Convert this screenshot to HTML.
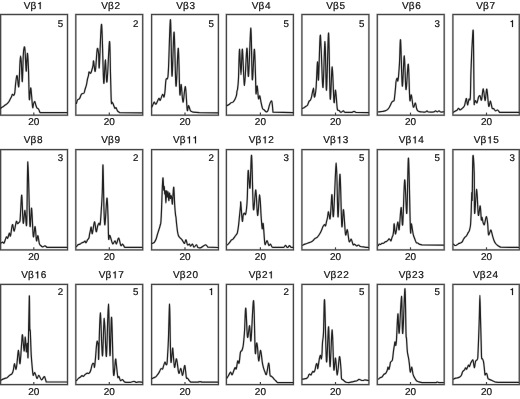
<!DOCTYPE html>
<html><head><meta charset="utf-8"><style>
html,body{margin:0;padding:0;background:#fff;width:520px;height:399px;overflow:hidden}
svg{display:block;will-change:transform;text-rendering:geometricPrecision;font-family:"Liberation Sans",sans-serif}
.f{fill:none;stroke:#454545;stroke-width:1.2}
.fu{fill:none;stroke:#d6d6d6;stroke-width:2.3}
.c{fill:none;stroke:#222;stroke-width:1.2;stroke-linejoin:round;stroke-linecap:round}
.cu{fill:none;stroke:#dadada;stroke-width:2.3;stroke-linejoin:round;stroke-linecap:round}
.t{font-size:10px;fill:#111;stroke:#111;stroke-width:0.22px}
.g{fill:#111;stroke:#111;stroke-width:0.22px;stroke-linejoin:round}
.n{font-size:9.7px;fill:#111;stroke:#111;stroke-width:0.22px;text-anchor:end}
.l{font-size:10px;fill:#111;stroke:#111;stroke-width:0.22px;text-anchor:middle}
</style></head><body>
<svg width="520" height="399" viewBox="0 0 520 399">
<rect class="fu" x="0.6" y="14.5" width="66.9" height="100.7"/>
<path class="cu" d="M0.80 108.40 C0.92 108.23 1.13 107.67 1.50 107.40 C1.87 107.13 2.50 107.12 3.00 106.80 C3.50 106.48 4.00 105.88 4.50 105.50 C5.00 105.12 5.50 104.87 6.00 104.50 C6.50 104.13 7.00 103.80 7.50 103.30 C8.00 102.80 8.58 102.13 9.00 101.50 C9.42 100.87 9.70 100.08 10.00 99.50 C10.30 98.92 10.53 98.50 10.80 98.00 C11.07 97.50 11.33 97.12 11.60 96.50 C11.87 95.88 12.03 94.50 12.40 94.30 C12.77 94.10 13.40 95.57 13.80 95.30 C14.20 95.03 14.52 94.42 14.80 92.70 C15.08 90.98 15.22 87.62 15.50 85.00 C15.78 82.38 16.20 78.42 16.50 77.00 C16.80 75.58 16.92 74.92 17.30 76.50 C17.68 78.08 18.35 88.92 18.80 86.50 C19.25 84.08 19.70 67.08 20.00 62.00 C20.30 56.92 20.38 56.00 20.60 56.00 C20.82 56.00 21.02 57.75 21.30 62.00 C21.58 66.25 21.97 82.67 22.30 81.50 C22.63 80.33 22.98 60.68 23.30 55.00 C23.62 49.32 23.92 48.23 24.20 47.40 C24.48 46.57 24.67 46.07 25.00 50.00 C25.33 53.93 25.87 69.67 26.20 71.00 C26.53 72.33 26.77 60.83 27.00 58.00 C27.23 55.17 27.35 52.00 27.60 54.00 C27.85 56.00 28.22 62.50 28.50 70.00 C28.78 77.50 29.00 95.50 29.30 99.00 C29.60 102.50 30.02 92.67 30.30 91.00 C30.58 89.33 30.62 86.33 31.00 89.00 C31.38 91.67 32.18 104.50 32.60 107.00 C33.02 109.50 33.13 104.92 33.50 104.00 C33.87 103.08 34.42 101.33 34.80 101.50 C35.18 101.67 35.43 103.92 35.80 105.00 C36.17 106.08 36.55 107.33 37.00 108.00 C37.45 108.67 38.00 108.23 38.50 109.00 C39.00 109.77 39.50 111.40 40.00 112.60 L67.00 112.60"/>
<rect class="fu" x="75.8" y="14.5" width="66.9" height="100.7"/>
<path class="cu" d="M76.40 103.50 C76.58 102.92 76.98 100.82 77.50 100.00 C78.02 99.18 78.92 99.42 79.50 98.60 C80.08 97.78 80.58 95.92 81.00 95.10 C81.42 94.28 81.50 94.05 82.00 93.70 C82.50 93.35 83.50 93.70 84.00 93.00 C84.50 92.30 84.58 90.90 85.00 89.50 C85.42 88.10 86.08 86.35 86.50 84.60 C86.92 82.85 87.17 80.53 87.50 79.00 C87.83 77.47 88.25 76.57 88.50 75.40 C88.75 74.23 88.67 72.35 89.00 72.00 C89.33 71.65 90.08 73.43 90.50 73.30 C90.92 73.17 91.08 72.48 91.50 71.20 C91.92 69.92 92.65 67.28 93.00 65.60 C93.35 63.92 93.22 60.17 93.60 61.10 C93.98 62.03 94.70 73.17 95.30 71.20 C95.90 69.23 96.65 52.22 97.20 49.30 C97.75 46.38 98.25 50.75 98.60 53.70 C98.95 56.65 98.80 71.87 99.30 67.00 C99.80 62.13 100.87 21.92 101.60 24.50 C102.33 27.08 103.08 76.62 103.70 82.50 C104.32 88.38 104.75 59.92 105.30 59.80 C105.85 59.68 106.30 84.83 107.00 81.80 C107.70 78.77 108.92 42.90 109.50 41.60 C110.08 40.30 110.20 64.03 110.50 74.00 C110.80 83.97 111.05 96.72 111.30 101.40 C111.55 106.08 111.72 101.75 112.00 102.10 C112.28 102.45 112.67 102.80 113.00 103.50 C113.33 104.20 113.67 105.48 114.00 106.30 C114.33 107.12 114.67 108.17 115.00 108.40 C115.33 108.63 115.58 107.30 116.00 107.70 C116.42 108.10 116.92 109.98 117.50 110.80 C118.08 111.62 118.83 112.00 119.50 112.60 L142.20 112.80"/>
<rect class="fu" x="151.6" y="14.5" width="66.8" height="100.7"/>
<path class="cu" d="M151.90 107.00 C152.13 106.47 152.90 104.62 153.30 103.80 C153.70 102.98 153.85 102.05 154.30 102.10 C154.75 102.15 155.25 104.70 156.00 104.10 C156.75 103.50 158.10 99.13 158.80 98.50 C159.50 97.87 159.57 100.98 160.20 100.30 C160.83 99.62 161.97 94.95 162.60 94.40 C163.23 93.85 163.60 97.53 164.00 97.00 C164.40 96.47 164.67 94.10 165.00 91.20 C165.33 88.30 165.57 81.77 166.00 79.60 C166.43 77.43 167.18 80.07 167.60 78.20 C168.02 76.33 168.02 78.15 168.50 68.40 C168.98 58.65 169.92 18.42 170.50 19.70 C171.08 20.98 171.40 74.02 172.00 76.10 C172.60 78.18 173.43 30.55 174.10 32.20 C174.77 33.85 175.30 83.32 176.00 86.00 C176.70 88.68 177.67 47.02 178.30 48.30 C178.93 49.58 179.32 87.65 179.80 93.70 C180.28 99.75 180.67 83.20 181.20 84.60 C181.73 86.00 182.30 101.75 183.00 102.10 C183.70 102.45 184.70 85.42 185.40 86.70 C186.10 87.98 186.67 106.65 187.20 109.80 C187.73 112.95 188.08 105.48 188.60 105.60 C189.12 105.72 189.78 109.50 190.30 110.50 C190.82 111.50 191.23 111.32 191.70 111.60 C192.17 111.88 192.63 112.00 193.10 112.20 L199.40 112.60 L218.00 112.80"/>
<rect class="fu" x="226.4" y="14.5" width="67.0" height="100.7"/>
<path class="cu" d="M227.00 105.60 C227.33 105.43 228.33 105.07 229.00 104.60 C229.67 104.13 230.33 103.22 231.00 102.80 C231.67 102.38 232.33 102.68 233.00 102.10 C233.67 101.52 234.42 100.47 235.00 99.30 C235.58 98.13 236.17 96.50 236.50 95.10 C236.83 93.70 236.83 91.83 237.00 90.90 C237.17 89.97 237.25 91.62 237.50 89.50 C237.75 87.38 238.17 84.90 238.50 78.20 C238.83 71.50 239.08 49.88 239.50 49.30 C239.92 48.72 240.52 74.70 241.00 74.70 C241.48 74.70 241.82 47.53 242.40 49.30 C242.98 51.07 243.75 85.47 244.50 85.30 C245.25 85.13 246.23 49.83 246.90 48.30 C247.57 46.77 247.83 79.47 248.50 76.10 C249.17 72.73 250.27 27.52 250.90 28.10 C251.53 28.68 251.73 76.07 252.30 79.60 C252.87 83.13 253.77 50.00 254.30 49.30 C254.83 48.60 255.22 68.00 255.50 75.40 C255.78 82.80 255.72 91.93 256.00 93.70 C256.28 95.47 256.78 85.18 257.20 86.00 C257.62 86.82 258.07 96.97 258.50 98.60 C258.93 100.23 259.38 95.22 259.80 95.80 C260.22 96.38 260.55 100.00 261.00 102.10 C261.45 104.20 262.00 107.12 262.50 108.40 C263.00 109.68 263.33 109.22 264.00 109.80 C264.67 110.38 265.83 111.78 266.50 111.90 C267.17 112.02 267.50 111.67 268.00 110.50 C268.50 109.33 269.00 106.42 269.50 104.90 C270.00 103.38 270.58 101.87 271.00 101.40 C271.42 100.93 271.67 100.30 272.00 102.10 C272.33 103.90 272.67 108.83 273.00 112.20 L293.00 112.60"/>
<rect class="fu" x="301.9" y="14.5" width="67.0" height="100.7"/>
<path class="cu" d="M302.50 108.40 C302.75 108.28 303.42 108.05 304.00 107.70 C304.58 107.35 305.42 106.72 306.00 106.30 C306.58 105.88 307.00 106.02 307.50 105.20 C308.00 104.38 308.50 102.27 309.00 101.40 C309.50 100.53 310.08 100.70 310.50 100.00 C310.92 99.30 311.00 99.18 311.50 97.20 C312.00 95.22 313.03 88.10 313.50 88.10 C313.97 88.10 313.88 97.08 314.30 97.20 C314.72 97.32 315.47 94.67 316.00 88.80 C316.53 82.93 317.08 63.53 317.50 62.00 C317.92 60.47 318.07 83.83 318.50 79.60 C318.93 75.37 319.65 41.58 320.10 36.60 C320.55 31.62 320.72 41.23 321.20 49.70 C321.68 58.17 322.37 88.75 323.00 87.40 C323.63 86.05 324.42 41.13 325.00 41.60 C325.58 42.07 325.90 91.62 326.50 90.20 C327.10 88.78 327.98 31.70 328.60 33.10 C329.22 34.50 329.60 92.95 330.20 98.60 C330.80 104.25 331.57 66.42 332.20 67.00 C332.83 67.58 333.45 98.23 334.00 102.10 C334.55 105.97 335.00 89.50 335.50 90.20 C336.00 90.90 336.65 103.00 337.00 106.30 C337.35 109.60 337.27 109.32 337.60 110.00 C337.93 110.68 338.47 110.02 339.00 110.40 C339.53 110.78 340.27 112.12 340.80 112.30 C341.33 112.48 341.77 111.75 342.20 111.50 C342.63 111.25 342.97 110.67 343.40 110.80 C343.83 110.93 344.03 112.03 344.80 112.30 C345.57 112.57 346.80 112.40 348.00 112.40 C349.20 112.40 351.00 112.47 352.00 112.30 C353.00 112.13 353.33 111.38 354.00 111.40 C354.67 111.42 355.33 112.07 356.00 112.40 L368.50 112.60"/>
<rect class="fu" x="377.3" y="14.5" width="66.9" height="100.7"/>
<path class="cu" d="M378.50 111.90 C378.92 111.85 380.08 111.72 381.00 111.60 C381.92 111.48 383.17 111.38 384.00 111.20 C384.83 111.02 385.33 110.85 386.00 110.50 C386.67 110.15 387.42 109.68 388.00 109.10 C388.58 108.52 389.08 107.70 389.50 107.00 C389.92 106.30 390.17 105.60 390.50 104.90 C390.83 104.20 391.17 103.38 391.50 102.80 C391.83 102.22 392.08 101.75 392.50 101.40 C392.92 101.05 393.67 101.28 394.00 100.70 C394.33 100.12 394.25 100.00 394.50 97.90 C394.75 95.80 395.25 90.78 395.50 88.10 C395.75 85.42 395.75 83.45 396.00 81.80 C396.25 80.15 396.70 78.33 397.00 78.20 C397.30 78.07 397.55 81.23 397.80 81.00 C398.05 80.77 398.22 79.83 398.50 76.80 C398.78 73.77 399.15 68.90 399.50 62.80 C399.85 56.70 400.13 36.33 400.60 40.20 C401.07 44.07 401.68 83.37 402.30 86.00 C402.92 88.63 403.68 55.42 404.30 56.00 C404.92 56.58 405.33 88.12 406.00 89.50 C406.67 90.88 407.67 62.65 408.30 64.30 C408.93 65.95 409.30 94.30 409.80 99.40 C410.30 104.50 410.72 93.63 411.30 94.90 C411.88 96.17 412.62 105.65 413.30 107.00 C413.98 108.35 414.85 102.75 415.40 103.00 C415.95 103.25 416.20 107.20 416.60 108.50 C417.00 109.80 417.32 110.28 417.80 110.80 C418.28 111.32 418.63 111.40 419.50 111.60 C420.37 111.80 422.00 111.93 423.00 112.00 C424.00 112.07 424.83 112.18 425.50 112.00 C426.17 111.82 426.50 110.90 427.00 110.90 C427.50 110.90 427.33 111.83 428.50 112.00 C429.67 112.17 432.82 112.08 434.00 111.90 C435.18 111.72 435.05 110.90 435.60 110.90 C436.15 110.90 436.73 111.90 437.30 111.90 C437.87 111.90 438.43 110.88 439.00 110.90 C439.57 110.92 439.90 111.85 440.70 112.00 C441.50 112.15 443.28 111.83 443.80 111.80"/>
<rect class="fu" x="452.9" y="14.5" width="66.4" height="100.7"/>
<path class="cu" d="M453.50 112.20 C453.75 112.03 454.42 111.53 455.00 111.20 C455.58 110.87 456.42 110.67 457.00 110.20 C457.58 109.73 458.00 108.47 458.50 108.40 C459.00 108.33 459.50 109.68 460.00 109.80 C460.50 109.92 461.00 109.45 461.50 109.10 C462.00 108.75 462.50 108.28 463.00 107.70 C463.50 107.12 464.08 106.65 464.50 105.60 C464.92 104.55 465.17 102.57 465.50 101.40 C465.83 100.23 466.17 98.02 466.50 98.60 C466.83 99.18 467.08 104.78 467.50 104.90 C467.92 105.02 468.53 100.47 469.00 99.30 C469.47 98.13 469.98 102.12 470.30 97.90 C470.62 93.68 470.67 81.48 470.90 74.00 C471.13 66.52 471.45 58.67 471.70 53.00 C471.95 47.33 472.18 43.77 472.40 40.00 C472.62 36.23 472.83 31.23 473.00 30.40 C473.17 29.57 473.28 30.07 473.40 35.00 C473.52 39.93 473.58 49.05 473.70 60.00 C473.82 70.95 473.97 93.57 474.10 100.70 C474.23 107.83 474.27 102.80 474.50 102.80 C474.73 102.80 475.08 100.70 475.50 100.70 C475.92 100.70 476.50 103.38 477.00 102.80 C477.50 102.22 478.00 98.37 478.50 97.20 C479.00 96.03 479.50 95.33 480.00 95.80 C480.50 96.27 480.95 101.17 481.50 100.00 C482.05 98.83 482.70 88.68 483.30 88.80 C483.90 88.92 484.52 100.63 485.10 100.70 C485.68 100.77 486.20 88.32 486.80 89.20 C487.40 90.08 488.12 104.00 488.70 106.00 C489.28 108.00 489.83 101.30 490.30 101.20 C490.77 101.10 491.17 104.18 491.50 105.40 C491.83 106.62 491.97 107.97 492.30 108.50 C492.63 109.03 492.97 108.22 493.50 108.60 C494.03 108.98 494.83 110.57 495.50 110.80 C496.17 111.03 496.83 109.75 497.50 110.00 C498.17 110.25 498.83 111.53 499.50 112.30 L519.00 112.30"/>
<rect class="fu" x="0.6" y="149.6" width="66.9" height="100.3"/>
<path class="cu" d="M1.00 243.10 C1.25 242.95 2.00 242.20 2.50 242.20 C3.00 242.20 3.50 243.62 4.00 243.10 C4.50 242.58 5.08 240.15 5.50 239.10 C5.92 238.05 6.13 236.95 6.50 236.80 C6.87 236.65 7.23 238.80 7.70 238.20 C8.17 237.60 8.83 233.58 9.30 233.20 C9.77 232.82 9.98 237.33 10.50 235.90 C11.02 234.47 11.78 225.42 12.40 224.60 C13.02 223.78 13.55 231.52 14.20 231.00 C14.85 230.48 15.75 222.72 16.30 221.50 C16.85 220.28 17.05 223.55 17.50 223.70 C17.95 223.85 18.58 222.92 19.00 222.40 C19.42 221.88 19.72 222.67 20.00 220.60 C20.28 218.53 20.40 214.20 20.70 210.00 C21.00 205.80 21.38 193.23 21.80 195.40 C22.22 197.57 22.67 220.50 23.20 223.00 C23.73 225.50 24.42 210.27 25.00 210.40 C25.58 210.53 26.22 231.90 26.70 223.80 C27.18 215.70 27.37 161.57 27.90 161.80 C28.43 162.03 29.28 217.45 29.90 225.20 C30.52 232.95 31.03 206.43 31.60 208.30 C32.17 210.17 32.72 233.35 33.30 236.40 C33.88 239.45 34.57 225.90 35.10 226.60 C35.63 227.30 36.03 239.08 36.50 240.60 C36.97 242.12 37.43 235.23 37.90 235.70 C38.37 236.17 38.83 241.77 39.30 243.40 C39.77 245.03 40.12 244.92 40.70 245.50 C41.28 246.08 42.10 246.85 42.80 246.90 C43.50 246.95 44.20 245.72 44.90 245.80 C45.60 245.88 46.30 246.87 47.00 247.40 L67.00 247.40"/>
<rect class="fu" x="75.8" y="149.6" width="66.9" height="100.3"/>
<path class="cu" d="M76.50 246.60 C76.75 246.30 77.42 245.22 78.00 244.80 C78.58 244.38 79.33 244.45 80.00 244.10 C80.67 243.75 81.33 243.05 82.00 242.70 C82.67 242.35 83.50 242.28 84.00 242.00 C84.50 241.72 84.67 240.88 85.00 241.00 C85.33 241.12 85.58 242.88 86.00 242.70 C86.42 242.52 87.00 240.72 87.50 239.90 C88.00 239.08 88.67 238.70 89.00 237.80 C89.33 236.90 89.28 235.63 89.50 234.50 C89.72 233.37 90.02 232.23 90.30 231.00 C90.58 229.77 90.87 226.67 91.20 227.10 C91.53 227.53 91.75 234.47 92.30 233.60 C92.85 232.73 93.85 222.22 94.50 221.90 C95.15 221.58 95.67 231.05 96.20 231.70 C96.73 232.35 97.23 227.22 97.70 225.80 C98.17 224.38 98.58 223.48 99.00 223.20 C99.42 222.92 99.80 226.60 100.20 224.10 C100.60 221.60 101.05 213.53 101.40 208.20 C101.75 202.87 102.03 199.27 102.30 192.10 C102.57 184.93 102.72 162.27 103.00 165.20 C103.28 168.13 103.67 199.82 104.00 209.70 C104.33 219.58 104.52 226.40 105.00 224.50 C105.48 222.60 106.40 199.72 106.90 198.30 C107.40 196.88 107.72 209.30 108.00 216.00 C108.28 222.70 108.33 235.27 108.60 238.50 C108.87 241.73 109.27 235.57 109.60 235.40 C109.93 235.23 110.08 236.10 110.60 237.50 C111.12 238.90 111.97 243.25 112.70 243.80 C113.43 244.35 114.37 240.80 115.00 240.80 C115.63 240.80 115.88 244.25 116.50 243.80 C117.12 243.35 117.98 237.83 118.70 238.10 C119.42 238.37 120.13 244.38 120.80 245.40 C121.47 246.42 122.07 243.88 122.70 244.20 C123.33 244.52 123.97 246.27 124.60 247.30 L142.20 247.30"/>
<rect class="fu" x="151.6" y="149.6" width="66.8" height="100.3"/>
<path class="cu" d="M152.00 243.50 C152.20 243.42 152.82 243.20 153.20 243.00 C153.58 242.80 153.83 242.92 154.30 242.30 C154.77 241.68 155.53 240.43 156.00 239.30 C156.47 238.17 156.68 236.88 157.10 235.50 C157.52 234.12 158.10 232.28 158.50 231.00 C158.90 229.72 159.18 228.88 159.50 227.80 C159.82 226.72 160.17 225.47 160.40 224.50 C160.63 223.53 160.72 224.32 160.90 222.00 C161.08 219.68 161.28 215.88 161.50 210.60 C161.72 205.32 161.97 195.73 162.20 190.30 C162.43 184.87 162.70 179.05 162.90 178.00 C163.10 176.95 163.27 182.00 163.40 184.00 C163.53 186.00 163.57 189.58 163.70 190.00 C163.83 190.42 164.02 185.83 164.20 186.50 C164.38 187.17 164.62 193.25 164.80 194.00 C164.98 194.75 165.12 189.50 165.30 191.00 C165.48 192.50 165.68 203.00 165.90 203.00 C166.12 203.00 166.37 192.00 166.60 191.00 C166.83 190.00 167.07 196.83 167.30 197.00 C167.53 197.17 167.75 191.42 168.00 192.00 C168.25 192.58 168.55 200.33 168.80 200.50 C169.05 200.67 169.25 193.33 169.50 193.00 C169.75 192.67 170.05 198.08 170.30 198.50 C170.55 198.92 170.77 195.58 171.00 195.50 C171.23 195.42 171.47 196.58 171.70 198.00 C171.93 199.42 172.18 204.50 172.40 204.00 C172.62 203.50 172.77 197.75 173.00 195.00 C173.23 192.25 173.52 185.83 173.80 187.50 C174.08 189.17 174.42 200.48 174.70 205.00 C174.98 209.52 175.28 212.52 175.50 214.60 C175.72 216.68 175.83 216.10 176.00 217.50 C176.17 218.90 176.25 220.67 176.50 223.00 C176.75 225.33 177.17 229.38 177.50 231.50 C177.83 233.62 178.08 234.65 178.50 235.70 C178.92 236.75 179.50 237.22 180.00 237.80 C180.50 238.38 181.00 238.62 181.50 239.20 C182.00 239.78 182.50 240.60 183.00 241.30 C183.50 242.00 184.00 243.63 184.50 243.40 C185.00 243.17 185.50 239.67 186.00 239.90 C186.50 240.13 186.92 244.10 187.50 244.80 C188.08 245.50 189.00 243.87 189.50 244.10 C190.00 244.33 190.00 246.20 190.50 246.20 C191.00 246.20 191.92 243.93 192.50 244.10 C193.08 244.27 193.33 247.08 194.00 247.20 C194.67 247.32 195.83 244.73 196.50 244.80 C197.17 244.87 197.25 247.13 198.00 247.60 C198.75 248.07 199.75 248.07 201.00 247.60 C202.25 247.13 204.33 244.87 205.50 244.80 C206.67 244.73 207.17 246.40 208.00 247.20 L218.00 247.50"/>
<rect class="fu" x="226.4" y="149.6" width="67.0" height="100.3"/>
<path class="cu" d="M227.50 244.80 C227.83 244.45 228.83 243.52 229.50 242.70 C230.17 241.88 230.92 240.48 231.50 239.90 C232.08 239.32 232.42 239.78 233.00 239.20 C233.58 238.62 234.33 237.33 235.00 236.40 C235.67 235.47 236.58 234.30 237.00 233.60 C237.42 232.90 237.25 233.48 237.50 232.20 C237.75 230.92 238.17 228.60 238.50 225.90 C238.83 223.20 239.17 219.28 239.50 216.00 C239.83 212.72 240.28 208.42 240.50 206.20 C240.72 203.98 240.50 200.23 240.80 202.70 C241.10 205.17 241.88 219.02 242.30 221.00 C242.72 222.98 242.93 215.90 243.30 214.60 C243.67 213.30 244.13 213.20 244.50 213.20 C244.87 213.20 245.17 215.30 245.50 214.60 C245.83 213.90 246.20 211.80 246.50 209.00 C246.80 206.20 247.02 204.22 247.30 197.80 C247.58 191.38 247.75 172.13 248.20 170.50 C248.65 168.87 249.43 190.50 250.00 188.00 C250.57 185.50 251.03 152.00 251.60 155.50 C252.17 159.00 252.70 203.25 253.40 209.00 C254.10 214.75 255.10 188.93 255.80 190.00 C256.50 191.07 256.95 214.60 257.60 215.40 C258.25 216.20 259.12 194.70 259.70 194.80 C260.28 194.90 260.68 210.35 261.10 216.00 C261.52 221.65 261.85 227.40 262.20 228.70 C262.55 230.00 262.77 221.37 263.20 223.80 C263.63 226.23 264.33 240.17 264.80 243.30 C265.27 246.43 265.60 243.02 266.00 242.60 C266.40 242.18 266.73 240.33 267.20 240.80 C267.67 241.27 268.25 244.83 268.80 245.40 C269.35 245.97 269.97 243.95 270.50 244.20 C271.03 244.45 271.50 246.38 272.00 246.90 C272.50 247.42 272.33 247.23 273.50 247.30 C274.67 247.37 277.30 247.30 279.00 247.30 C280.70 247.30 282.62 247.62 283.70 247.30 C284.78 246.98 284.95 245.40 285.50 245.40 C286.05 245.40 286.58 246.98 287.00 247.30 C287.42 247.62 287.58 247.58 288.00 247.30 C288.42 247.02 289.00 245.60 289.50 245.60 C290.00 245.60 290.42 247.02 291.00 247.30 C291.58 247.58 292.67 247.30 293.00 247.30"/>
<rect class="fu" x="301.9" y="149.6" width="67.0" height="100.3"/>
<path class="cu" d="M302.50 245.20 C302.92 245.02 304.08 244.47 305.00 244.10 C305.92 243.73 307.00 243.35 308.00 243.00 C309.00 242.65 310.17 242.40 311.00 242.00 C311.83 241.60 312.33 241.18 313.00 240.60 C313.67 240.02 314.33 239.02 315.00 238.50 C315.67 237.98 316.33 238.08 317.00 237.50 C317.67 236.92 318.33 236.00 319.00 235.00 C319.67 234.00 320.33 232.90 321.00 231.50 C321.67 230.10 322.42 227.77 323.00 226.60 C323.58 225.43 324.08 224.62 324.50 224.50 C324.92 224.38 325.17 226.37 325.50 225.90 C325.83 225.43 326.17 223.10 326.50 221.70 C326.83 220.30 327.17 219.15 327.50 217.50 C327.83 215.85 328.08 211.57 328.50 211.80 C328.92 212.03 329.58 219.60 330.00 218.90 C330.42 218.20 330.67 211.62 331.00 207.60 C331.33 203.58 331.58 193.40 332.00 194.80 C332.42 196.20 332.78 221.28 333.50 216.00 C334.22 210.72 335.55 162.97 336.30 163.10 C337.05 163.23 337.38 214.93 338.00 216.80 C338.62 218.67 339.37 172.78 340.00 174.30 C340.63 175.82 341.22 220.00 341.80 225.90 C342.38 231.80 342.88 208.30 343.50 209.70 C344.12 211.10 344.87 230.95 345.50 234.30 C346.13 237.65 346.68 228.60 347.30 229.80 C347.92 231.00 348.55 239.93 349.20 241.50 C349.85 243.07 350.55 238.68 351.20 239.20 C351.85 239.72 352.53 243.77 353.10 244.60 C353.67 245.43 354.03 243.98 354.60 244.20 C355.17 244.42 355.85 245.77 356.50 245.90 C357.15 246.03 357.85 244.90 358.50 245.00 C359.15 245.10 359.38 246.15 360.40 246.50 C361.42 246.85 363.25 246.93 364.60 247.10 C365.95 247.27 367.85 247.43 368.50 247.50"/>
<rect class="fu" x="377.3" y="149.6" width="66.9" height="100.3"/>
<path class="cu" d="M378.30 245.60 C378.45 245.33 378.83 244.18 379.20 244.00 C379.57 243.82 380.03 244.62 380.50 244.50 C380.97 244.38 381.50 243.50 382.00 243.30 C382.50 243.10 383.00 243.52 383.50 243.30 C384.00 243.08 384.50 242.32 385.00 242.00 C385.50 241.68 386.00 241.70 386.50 241.40 C387.00 241.10 387.58 240.62 388.00 240.20 C388.42 239.78 388.67 239.02 389.00 238.90 C389.33 238.78 389.67 239.18 390.00 239.50 C390.33 239.82 390.67 241.12 391.00 240.80 C391.33 240.48 391.67 238.55 392.00 237.60 C392.33 236.65 392.73 236.20 393.00 235.10 C393.27 234.00 393.40 232.88 393.60 231.00 C393.80 229.12 393.87 223.30 394.20 223.80 C394.53 224.30 395.00 234.27 395.60 234.00 C396.20 233.73 397.20 222.95 397.80 222.20 C398.40 221.45 398.65 231.93 399.20 229.50 C399.75 227.07 400.52 208.43 401.10 207.60 C401.68 206.77 402.10 229.10 402.70 224.50 C403.30 219.90 404.02 181.88 404.70 180.00 C405.38 178.12 406.17 216.83 406.80 213.20 C407.43 209.57 407.90 155.50 408.50 158.20 C409.10 160.90 409.92 218.47 410.40 229.40 C410.88 240.33 410.93 222.98 411.40 223.80 C411.87 224.62 412.62 231.73 413.20 234.30 C413.78 236.87 414.38 237.80 414.90 239.20 C415.42 240.60 415.83 242.07 416.30 242.70 C416.77 243.33 417.23 242.77 417.70 243.00 C418.17 243.23 418.40 243.80 419.10 244.10 C419.80 244.40 420.97 244.57 421.90 244.80 L443.50 245.20"/>
<rect class="fu" x="452.9" y="149.6" width="66.4" height="100.3"/>
<path class="cu" d="M453.50 244.10 C453.75 244.33 454.42 245.38 455.00 245.50 C455.58 245.62 456.33 245.15 457.00 244.80 C457.67 244.45 458.33 243.75 459.00 243.40 C459.67 243.05 460.42 243.05 461.00 242.70 C461.58 242.35 462.08 241.88 462.50 241.30 C462.92 240.72 463.08 239.90 463.50 239.20 C463.92 238.50 464.58 237.57 465.00 237.10 C465.42 236.63 465.67 236.75 466.00 236.40 C466.33 236.05 466.67 235.58 467.00 235.00 C467.33 234.42 467.67 233.48 468.00 232.90 C468.33 232.32 468.75 231.97 469.00 231.50 C469.25 231.03 469.25 231.15 469.50 230.10 C469.75 229.05 470.25 227.55 470.50 225.20 C470.75 222.85 470.88 218.23 471.00 216.00 C471.12 213.77 471.07 215.68 471.20 211.80 C471.33 207.92 471.63 194.83 471.80 192.70 C471.97 190.57 472.02 205.05 472.20 199.00 C472.38 192.95 472.57 160.80 472.90 156.40 C473.23 152.00 473.92 163.13 474.20 172.60 C474.48 182.07 474.18 210.40 474.60 213.20 C475.02 216.00 476.08 189.10 476.70 189.40 C477.32 189.70 477.72 212.23 478.30 215.00 C478.88 217.77 479.70 205.23 480.20 206.00 C480.70 206.77 481.00 217.72 481.30 219.60 C481.60 221.48 481.70 216.80 482.00 217.30 C482.30 217.80 482.72 221.35 483.10 222.60 C483.48 223.85 483.98 224.93 484.30 224.80 C484.62 224.67 484.63 223.17 485.00 221.80 C485.37 220.43 486.05 216.22 486.50 216.60 C486.95 216.98 487.37 221.10 487.70 224.10 C488.03 227.10 488.15 233.22 488.50 234.60 C488.85 235.98 489.38 233.15 489.80 232.40 C490.22 231.65 490.53 229.48 491.00 230.10 C491.47 230.72 492.10 234.35 492.60 236.10 C493.10 237.85 493.50 239.37 494.00 240.60 C494.50 241.83 494.98 242.68 495.60 243.50 C496.22 244.32 496.88 244.88 497.70 245.50 C498.52 246.12 499.57 246.63 500.50 247.20 L518.50 247.40"/>
<rect class="fu" x="0.6" y="284.4" width="66.9" height="100.2"/>
<path class="cu" d="M1.00 380.20 C1.33 380.02 2.33 379.40 3.00 379.10 C3.67 378.80 4.33 378.63 5.00 378.40 C5.67 378.17 6.42 378.05 7.00 377.70 C7.58 377.35 8.00 376.77 8.50 376.30 C9.00 375.83 9.50 375.25 10.00 374.90 C10.50 374.55 11.08 374.55 11.50 374.20 C11.92 373.85 12.17 373.62 12.50 372.80 C12.83 371.98 13.17 370.82 13.50 369.30 C13.83 367.78 14.08 363.70 14.50 363.70 C14.92 363.70 15.58 369.42 16.00 369.30 C16.42 369.18 16.58 366.15 17.00 363.00 C17.42 359.85 18.00 350.28 18.50 350.40 C19.00 350.52 19.50 364.53 20.00 363.70 C20.50 362.87 21.08 350.20 21.50 345.40 C21.92 340.60 22.07 333.97 22.50 334.90 C22.93 335.83 23.63 350.65 24.10 351.00 C24.57 351.35 24.92 336.87 25.30 337.00 C25.68 337.13 26.05 350.75 26.40 351.80 C26.75 352.85 27.12 342.60 27.40 343.30 C27.68 344.00 27.78 363.82 28.10 356.00 C28.42 348.18 29.02 300.98 29.30 296.40 C29.58 291.82 29.63 322.73 29.80 328.50 C29.97 334.27 30.07 326.67 30.30 331.00 C30.53 335.33 30.85 348.13 31.20 354.50 C31.55 360.87 32.07 365.73 32.40 369.20 C32.73 372.67 32.80 374.73 33.20 375.30 C33.60 375.87 34.17 372.08 34.80 372.60 C35.43 373.12 36.33 377.95 37.00 378.40 C37.67 378.85 38.05 375.07 38.80 375.30 C39.55 375.53 40.60 379.58 41.50 379.80 C42.40 380.02 43.58 376.82 44.20 376.60 C44.82 376.38 44.85 377.60 45.20 378.50 C45.55 379.40 45.93 380.83 46.30 382.00 L67.00 382.00"/>
<rect class="fu" x="75.8" y="284.4" width="66.9" height="100.2"/>
<path class="cu" d="M76.50 380.50 C76.83 380.15 77.83 378.98 78.50 378.40 C79.17 377.82 79.92 377.47 80.50 377.00 C81.08 376.53 81.50 375.72 82.00 375.60 C82.50 375.48 83.00 376.47 83.50 376.30 C84.00 376.13 84.42 375.12 85.00 374.60 C85.58 374.08 86.42 373.38 87.00 373.20 C87.58 373.02 88.00 373.68 88.50 373.50 C89.00 373.32 89.58 372.80 90.00 372.10 C90.42 371.40 90.67 370.47 91.00 369.30 C91.33 368.13 91.67 366.08 92.00 365.10 C92.33 364.12 92.67 363.52 93.00 363.40 C93.33 363.28 93.75 363.77 94.00 364.40 C94.25 365.03 94.25 368.25 94.50 367.20 C94.75 366.15 95.17 361.73 95.50 358.10 C95.83 354.47 96.20 348.22 96.50 345.40 C96.80 342.58 97.00 340.97 97.30 341.20 C97.60 341.43 98.07 343.98 98.30 346.80 C98.53 349.62 98.37 363.75 98.70 358.10 C99.03 352.45 99.68 313.28 100.30 312.90 C100.92 312.52 101.73 354.90 102.40 355.80 C103.07 356.70 103.63 318.22 104.30 318.30 C104.97 318.38 105.72 358.65 106.40 356.30 C107.08 353.95 107.80 304.33 108.40 304.20 C109.00 304.07 109.47 353.30 110.00 355.50 C110.53 357.70 111.02 314.32 111.60 317.40 C112.18 320.48 112.85 366.98 113.50 374.00 C114.15 381.02 115.03 361.17 115.50 359.50 C115.97 357.83 115.92 361.08 116.30 364.00 C116.68 366.92 117.35 374.90 117.80 377.00 C118.25 379.10 118.55 376.00 119.00 376.60 C119.45 377.20 119.92 380.10 120.50 380.60 C121.08 381.10 121.75 379.35 122.50 379.60 C123.25 379.85 123.75 381.65 125.00 382.10 C126.25 382.55 128.50 382.43 130.00 382.30 C131.50 382.17 133.00 381.30 134.00 381.30 C135.00 381.30 135.17 382.20 136.00 382.30 C136.83 382.40 137.97 381.90 139.00 381.90 C140.03 381.90 141.67 382.23 142.20 382.30"/>
<rect class="fu" x="151.6" y="284.4" width="66.8" height="100.2"/>
<path class="cu" d="M152.00 378.60 C152.33 378.43 153.33 377.93 154.00 377.60 C154.67 377.27 155.33 377.18 156.00 376.60 C156.67 376.02 157.42 374.93 158.00 374.10 C158.58 373.27 159.00 372.52 159.50 371.60 C160.00 370.68 160.50 369.02 161.00 368.60 C161.50 368.18 162.08 369.52 162.50 369.10 C162.92 368.68 163.08 367.27 163.50 366.10 C163.92 364.93 164.58 362.35 165.00 362.10 C165.42 361.85 165.67 364.35 166.00 364.60 C166.33 364.85 166.73 365.20 167.00 363.60 C167.27 362.00 167.37 358.93 167.60 355.00 C167.83 351.07 168.07 348.47 168.40 340.00 C168.73 331.53 169.28 304.00 169.60 304.20 C169.92 304.40 170.07 331.52 170.30 341.20 C170.53 350.88 170.63 361.00 171.00 362.30 C171.37 363.60 172.17 350.88 172.50 349.00 C172.83 347.12 172.67 347.97 173.00 351.00 C173.33 354.03 173.97 365.87 174.50 367.20 C175.03 368.53 175.73 359.70 176.20 359.00 C176.67 358.30 176.87 360.63 177.30 363.00 C177.73 365.37 178.20 372.28 178.80 373.20 C179.40 374.12 180.27 368.15 180.90 368.50 C181.53 368.85 181.98 375.78 182.60 375.30 C183.22 374.82 184.10 366.32 184.60 365.60 C185.10 364.88 185.30 368.97 185.60 371.00 C185.90 373.03 186.05 376.58 186.40 377.80 C186.75 379.02 187.27 377.87 187.70 378.30 C188.13 378.73 188.50 379.77 189.00 380.40 C189.50 381.03 190.13 381.53 190.70 382.10 L198.00 382.10 C198.67 381.93 199.33 381.60 200.00 381.60 C200.67 381.60 201.33 381.93 202.00 382.10 L218.00 382.10"/>
<rect class="fu" x="226.4" y="284.4" width="67.0" height="100.2"/>
<path class="cu" d="M227.00 378.00 C227.25 377.58 227.90 376.47 228.50 375.50 C229.10 374.53 229.98 372.33 230.60 372.20 C231.22 372.07 231.48 375.43 232.20 374.70 C232.92 373.97 234.22 368.78 234.90 367.80 C235.58 366.82 235.83 369.93 236.30 368.80 C236.77 367.67 237.23 361.97 237.70 361.00 C238.17 360.03 238.65 364.42 239.10 363.00 C239.55 361.58 239.95 354.57 240.40 352.50 C240.85 350.43 241.43 351.27 241.80 350.60 C242.17 349.93 242.35 349.43 242.60 348.50 C242.85 347.57 243.07 346.75 243.30 345.00 C243.53 343.25 243.78 340.50 244.00 338.00 C244.22 335.50 244.30 334.97 244.60 330.00 C244.90 325.03 245.32 307.03 245.80 308.20 C246.28 309.37 246.87 334.08 247.50 337.00 C248.13 339.92 249.02 325.12 249.60 325.70 C250.18 326.28 250.33 344.65 251.00 340.50 C251.67 336.35 252.90 298.92 253.60 300.80 C254.30 302.68 254.72 344.72 255.20 351.80 C255.68 358.88 256.12 344.13 256.50 343.30 C256.88 342.47 257.13 343.87 257.50 346.80 C257.87 349.73 258.18 360.30 258.70 360.90 C259.22 361.50 260.00 350.17 260.60 350.40 C261.20 350.63 261.82 359.38 262.30 362.30 C262.78 365.22 263.05 366.27 263.50 367.90 C263.95 369.53 264.50 371.05 265.00 372.10 C265.50 373.15 265.87 375.72 266.50 374.20 C267.13 372.68 268.22 362.88 268.80 363.00 C269.38 363.12 269.55 372.68 270.00 374.90 C270.45 377.12 271.05 375.88 271.50 376.30 C271.95 376.72 272.28 376.93 272.70 377.40 C273.12 377.87 273.53 378.58 274.00 379.10 C274.47 379.62 274.92 379.92 275.50 380.50 C276.08 381.08 276.83 381.90 277.50 382.60 L293.00 382.60"/>
<rect class="fu" x="301.9" y="284.4" width="67.0" height="100.2"/>
<path class="cu" d="M302.50 379.10 C302.83 379.05 303.83 378.92 304.50 378.80 C305.17 378.68 305.92 378.70 306.50 378.40 C307.08 378.10 307.62 377.58 308.00 377.00 C308.38 376.42 308.50 375.37 308.80 374.90 C309.10 374.43 309.43 374.20 309.80 374.20 C310.17 374.20 310.63 375.13 311.00 374.90 C311.37 374.67 311.67 373.38 312.00 372.80 C312.33 372.22 312.67 371.52 313.00 371.40 C313.33 371.28 313.67 372.33 314.00 372.10 C314.33 371.87 314.67 371.17 315.00 370.00 C315.33 368.83 315.67 366.15 316.00 365.10 C316.33 364.05 316.70 363.12 317.00 363.70 C317.30 364.28 317.50 368.83 317.80 368.60 C318.10 368.37 318.52 364.05 318.80 362.30 C319.08 360.55 319.22 359.27 319.50 358.10 C319.78 356.93 320.20 355.18 320.50 355.30 C320.80 355.42 321.05 359.03 321.30 358.80 C321.55 358.57 321.80 356.60 322.00 353.90 C322.20 351.20 322.25 346.12 322.50 342.60 C322.75 339.08 323.15 339.87 323.50 332.80 C323.85 325.73 324.10 295.40 324.60 300.20 C325.10 305.00 325.83 357.17 326.50 361.60 C327.17 366.03 328.02 325.98 328.60 326.80 C329.18 327.62 329.40 365.97 330.00 366.50 C330.60 367.03 331.57 329.53 332.20 330.00 C332.83 330.47 333.25 364.62 333.80 369.30 C334.35 373.98 334.92 357.17 335.50 358.10 C336.08 359.03 336.63 375.13 337.30 374.90 C337.97 374.67 338.88 357.63 339.50 356.70 C340.12 355.77 340.67 365.68 341.00 369.30 C341.33 372.92 341.17 376.65 341.50 378.40 C341.83 380.15 342.50 379.33 343.00 379.80 C343.50 380.27 344.00 380.80 344.50 381.20 C345.00 381.60 345.25 381.97 346.00 382.20 C346.75 382.43 348.00 382.65 349.00 382.60 C350.00 382.55 351.00 382.13 352.00 381.90 C353.00 381.67 354.17 381.38 355.00 381.20 C355.83 381.02 356.33 381.10 357.00 380.80 C357.67 380.50 358.33 379.50 359.00 379.40 C359.67 379.30 360.33 380.02 361.00 380.20 C361.67 380.38 362.33 380.57 363.00 380.50 C363.67 380.43 364.08 379.80 365.00 379.80 C365.92 379.80 367.92 380.38 368.50 380.50"/>
<rect class="fu" x="377.3" y="284.4" width="66.9" height="100.2"/>
<path class="cu" d="M378.50 379.10 C378.75 378.87 379.42 378.05 380.00 377.70 C380.58 377.35 381.50 377.35 382.00 377.00 C382.50 376.65 382.67 376.07 383.00 375.60 C383.33 375.13 383.58 374.55 384.00 374.20 C384.42 373.85 385.08 373.85 385.50 373.50 C385.92 373.15 386.17 372.80 386.50 372.10 C386.83 371.40 387.25 370.12 387.50 369.30 C387.75 368.48 387.75 367.20 388.00 367.20 C388.25 367.20 388.67 369.65 389.00 369.30 C389.33 368.95 389.75 366.27 390.00 365.10 C390.25 363.93 390.25 362.95 390.50 362.30 C390.75 361.65 391.17 361.67 391.50 361.20 C391.83 360.73 392.17 361.20 392.50 359.50 C392.83 357.80 393.17 353.47 393.50 351.00 C393.83 348.53 394.25 346.22 394.50 344.70 C394.75 343.18 394.78 341.78 395.00 341.90 C395.22 342.02 395.55 345.75 395.80 345.40 C396.05 345.05 396.15 345.05 396.50 339.80 C396.85 334.55 397.45 315.03 397.90 313.90 C398.35 312.77 398.60 335.92 399.20 333.00 C399.80 330.08 400.97 296.82 401.50 296.40 C402.03 295.98 402.12 325.40 402.40 330.50 C402.68 335.60 402.77 333.97 403.20 327.00 C403.63 320.03 404.53 287.73 405.00 288.70 C405.47 289.67 405.75 324.52 406.00 332.80 C406.25 341.08 406.28 335.37 406.50 338.40 C406.72 341.43 407.05 348.18 407.30 351.00 C407.55 353.82 407.75 353.88 408.00 355.30 C408.25 356.72 408.55 357.87 408.80 359.50 C409.05 361.13 409.25 363.00 409.50 365.10 C409.75 367.20 409.92 371.75 410.30 372.10 C410.68 372.45 411.35 366.85 411.80 367.20 C412.25 367.55 412.55 372.45 413.00 374.20 C413.45 375.95 413.92 376.60 414.50 377.70 C415.08 378.80 415.75 380.10 416.50 380.80 C417.25 381.50 418.08 381.60 419.00 381.90 C419.92 382.20 421.00 382.37 422.00 382.60 L436.00 382.60 C436.50 382.40 437.00 382.00 437.50 382.00 C438.00 382.00 438.00 382.50 439.00 382.60 C440.00 382.70 442.75 382.60 443.50 382.60"/>
<rect class="fu" x="452.9" y="284.4" width="66.4" height="100.2"/>
<path class="cu" d="M453.50 379.10 C453.75 378.98 454.42 378.58 455.00 378.40 C455.58 378.22 456.33 378.17 457.00 378.00 C457.67 377.83 458.42 377.68 459.00 377.40 C459.58 377.12 460.08 376.72 460.50 376.30 C460.92 375.88 461.17 375.60 461.50 374.90 C461.83 374.20 462.17 372.80 462.50 372.10 C462.83 371.40 463.17 371.05 463.50 370.70 C463.83 370.35 464.17 370.47 464.50 370.00 C464.83 369.53 465.17 368.02 465.50 367.90 C465.83 367.78 466.17 369.42 466.50 369.30 C466.83 369.18 467.17 367.90 467.50 367.20 C467.83 366.50 468.17 365.22 468.50 365.10 C468.83 364.98 469.17 366.73 469.50 366.50 C469.83 366.27 470.17 364.52 470.50 363.70 C470.83 362.88 471.08 362.18 471.50 361.60 C471.92 361.02 472.53 359.20 473.00 360.20 C473.47 361.20 473.88 367.37 474.30 367.60 C474.72 367.83 475.13 362.83 475.50 361.60 C475.87 360.37 476.20 360.55 476.50 360.20 C476.80 359.85 477.08 359.95 477.30 359.50 C477.52 359.05 477.62 360.08 477.80 357.50 C477.98 354.92 478.15 350.58 478.40 344.00 C478.65 337.42 479.05 326.10 479.30 318.00 C479.55 309.90 479.70 295.40 479.90 295.40 C480.10 295.40 480.28 309.90 480.50 318.00 C480.72 326.10 481.02 337.42 481.20 344.00 C481.38 350.58 481.40 355.03 481.60 357.50 C481.80 359.97 482.08 358.12 482.40 358.80 C482.72 359.48 483.15 359.73 483.50 361.60 C483.85 363.47 484.25 367.78 484.50 370.00 C484.75 372.22 484.75 374.32 485.00 374.90 C485.25 375.48 485.67 373.62 486.00 373.50 C486.33 373.38 486.67 373.38 487.00 374.20 C487.33 375.02 487.58 377.53 488.00 378.40 C488.42 379.27 488.92 379.10 489.50 379.40 C490.08 379.70 490.83 379.90 491.50 380.20 C492.17 380.50 492.75 380.87 493.50 381.20 C494.25 381.53 494.92 382.02 496.00 382.20 C497.08 382.38 498.67 382.27 500.00 382.30 L518.50 382.40"/>
<rect class="f" x="0.6" y="14.5" width="66.9" height="100.7"/>
<path class="f" d="M33.8 112.6V115.2"/>
<path class="c" d="M0.80 108.40 C0.92 108.23 1.13 107.67 1.50 107.40 C1.87 107.13 2.50 107.12 3.00 106.80 C3.50 106.48 4.00 105.88 4.50 105.50 C5.00 105.12 5.50 104.87 6.00 104.50 C6.50 104.13 7.00 103.80 7.50 103.30 C8.00 102.80 8.58 102.13 9.00 101.50 C9.42 100.87 9.70 100.08 10.00 99.50 C10.30 98.92 10.53 98.50 10.80 98.00 C11.07 97.50 11.33 97.12 11.60 96.50 C11.87 95.88 12.03 94.50 12.40 94.30 C12.77 94.10 13.40 95.57 13.80 95.30 C14.20 95.03 14.52 94.42 14.80 92.70 C15.08 90.98 15.22 87.62 15.50 85.00 C15.78 82.38 16.20 78.42 16.50 77.00 C16.80 75.58 16.92 74.92 17.30 76.50 C17.68 78.08 18.35 88.92 18.80 86.50 C19.25 84.08 19.70 67.08 20.00 62.00 C20.30 56.92 20.38 56.00 20.60 56.00 C20.82 56.00 21.02 57.75 21.30 62.00 C21.58 66.25 21.97 82.67 22.30 81.50 C22.63 80.33 22.98 60.68 23.30 55.00 C23.62 49.32 23.92 48.23 24.20 47.40 C24.48 46.57 24.67 46.07 25.00 50.00 C25.33 53.93 25.87 69.67 26.20 71.00 C26.53 72.33 26.77 60.83 27.00 58.00 C27.23 55.17 27.35 52.00 27.60 54.00 C27.85 56.00 28.22 62.50 28.50 70.00 C28.78 77.50 29.00 95.50 29.30 99.00 C29.60 102.50 30.02 92.67 30.30 91.00 C30.58 89.33 30.62 86.33 31.00 89.00 C31.38 91.67 32.18 104.50 32.60 107.00 C33.02 109.50 33.13 104.92 33.50 104.00 C33.87 103.08 34.42 101.33 34.80 101.50 C35.18 101.67 35.43 103.92 35.80 105.00 C36.17 106.08 36.55 107.33 37.00 108.00 C37.45 108.67 38.00 108.23 38.50 109.00 C39.00 109.77 39.50 111.40 40.00 112.60 L67.00 112.60"/>
<rect class="f" x="75.8" y="14.5" width="66.9" height="100.7"/>
<path class="f" d="M109.3 112.6V115.2"/>
<path class="c" d="M76.40 103.50 C76.58 102.92 76.98 100.82 77.50 100.00 C78.02 99.18 78.92 99.42 79.50 98.60 C80.08 97.78 80.58 95.92 81.00 95.10 C81.42 94.28 81.50 94.05 82.00 93.70 C82.50 93.35 83.50 93.70 84.00 93.00 C84.50 92.30 84.58 90.90 85.00 89.50 C85.42 88.10 86.08 86.35 86.50 84.60 C86.92 82.85 87.17 80.53 87.50 79.00 C87.83 77.47 88.25 76.57 88.50 75.40 C88.75 74.23 88.67 72.35 89.00 72.00 C89.33 71.65 90.08 73.43 90.50 73.30 C90.92 73.17 91.08 72.48 91.50 71.20 C91.92 69.92 92.65 67.28 93.00 65.60 C93.35 63.92 93.22 60.17 93.60 61.10 C93.98 62.03 94.70 73.17 95.30 71.20 C95.90 69.23 96.65 52.22 97.20 49.30 C97.75 46.38 98.25 50.75 98.60 53.70 C98.95 56.65 98.80 71.87 99.30 67.00 C99.80 62.13 100.87 21.92 101.60 24.50 C102.33 27.08 103.08 76.62 103.70 82.50 C104.32 88.38 104.75 59.92 105.30 59.80 C105.85 59.68 106.30 84.83 107.00 81.80 C107.70 78.77 108.92 42.90 109.50 41.60 C110.08 40.30 110.20 64.03 110.50 74.00 C110.80 83.97 111.05 96.72 111.30 101.40 C111.55 106.08 111.72 101.75 112.00 102.10 C112.28 102.45 112.67 102.80 113.00 103.50 C113.33 104.20 113.67 105.48 114.00 106.30 C114.33 107.12 114.67 108.17 115.00 108.40 C115.33 108.63 115.58 107.30 116.00 107.70 C116.42 108.10 116.92 109.98 117.50 110.80 C118.08 111.62 118.83 112.00 119.50 112.60 L142.20 112.80"/>
<rect class="f" x="151.6" y="14.5" width="66.8" height="100.7"/>
<path class="f" d="M185.0 112.6V115.2"/>
<path class="c" d="M151.90 107.00 C152.13 106.47 152.90 104.62 153.30 103.80 C153.70 102.98 153.85 102.05 154.30 102.10 C154.75 102.15 155.25 104.70 156.00 104.10 C156.75 103.50 158.10 99.13 158.80 98.50 C159.50 97.87 159.57 100.98 160.20 100.30 C160.83 99.62 161.97 94.95 162.60 94.40 C163.23 93.85 163.60 97.53 164.00 97.00 C164.40 96.47 164.67 94.10 165.00 91.20 C165.33 88.30 165.57 81.77 166.00 79.60 C166.43 77.43 167.18 80.07 167.60 78.20 C168.02 76.33 168.02 78.15 168.50 68.40 C168.98 58.65 169.92 18.42 170.50 19.70 C171.08 20.98 171.40 74.02 172.00 76.10 C172.60 78.18 173.43 30.55 174.10 32.20 C174.77 33.85 175.30 83.32 176.00 86.00 C176.70 88.68 177.67 47.02 178.30 48.30 C178.93 49.58 179.32 87.65 179.80 93.70 C180.28 99.75 180.67 83.20 181.20 84.60 C181.73 86.00 182.30 101.75 183.00 102.10 C183.70 102.45 184.70 85.42 185.40 86.70 C186.10 87.98 186.67 106.65 187.20 109.80 C187.73 112.95 188.08 105.48 188.60 105.60 C189.12 105.72 189.78 109.50 190.30 110.50 C190.82 111.50 191.23 111.32 191.70 111.60 C192.17 111.88 192.63 112.00 193.10 112.20 L199.40 112.60 L218.00 112.80"/>
<rect class="f" x="226.4" y="14.5" width="67.0" height="100.7"/>
<path class="f" d="M260.4 112.6V115.2"/>
<path class="c" d="M227.00 105.60 C227.33 105.43 228.33 105.07 229.00 104.60 C229.67 104.13 230.33 103.22 231.00 102.80 C231.67 102.38 232.33 102.68 233.00 102.10 C233.67 101.52 234.42 100.47 235.00 99.30 C235.58 98.13 236.17 96.50 236.50 95.10 C236.83 93.70 236.83 91.83 237.00 90.90 C237.17 89.97 237.25 91.62 237.50 89.50 C237.75 87.38 238.17 84.90 238.50 78.20 C238.83 71.50 239.08 49.88 239.50 49.30 C239.92 48.72 240.52 74.70 241.00 74.70 C241.48 74.70 241.82 47.53 242.40 49.30 C242.98 51.07 243.75 85.47 244.50 85.30 C245.25 85.13 246.23 49.83 246.90 48.30 C247.57 46.77 247.83 79.47 248.50 76.10 C249.17 72.73 250.27 27.52 250.90 28.10 C251.53 28.68 251.73 76.07 252.30 79.60 C252.87 83.13 253.77 50.00 254.30 49.30 C254.83 48.60 255.22 68.00 255.50 75.40 C255.78 82.80 255.72 91.93 256.00 93.70 C256.28 95.47 256.78 85.18 257.20 86.00 C257.62 86.82 258.07 96.97 258.50 98.60 C258.93 100.23 259.38 95.22 259.80 95.80 C260.22 96.38 260.55 100.00 261.00 102.10 C261.45 104.20 262.00 107.12 262.50 108.40 C263.00 109.68 263.33 109.22 264.00 109.80 C264.67 110.38 265.83 111.78 266.50 111.90 C267.17 112.02 267.50 111.67 268.00 110.50 C268.50 109.33 269.00 106.42 269.50 104.90 C270.00 103.38 270.58 101.87 271.00 101.40 C271.42 100.93 271.67 100.30 272.00 102.10 C272.33 103.90 272.67 108.83 273.00 112.20 L293.00 112.60"/>
<rect class="f" x="301.9" y="14.5" width="67.0" height="100.7"/>
<path class="f" d="M335.5 112.6V115.2"/>
<path class="c" d="M302.50 108.40 C302.75 108.28 303.42 108.05 304.00 107.70 C304.58 107.35 305.42 106.72 306.00 106.30 C306.58 105.88 307.00 106.02 307.50 105.20 C308.00 104.38 308.50 102.27 309.00 101.40 C309.50 100.53 310.08 100.70 310.50 100.00 C310.92 99.30 311.00 99.18 311.50 97.20 C312.00 95.22 313.03 88.10 313.50 88.10 C313.97 88.10 313.88 97.08 314.30 97.20 C314.72 97.32 315.47 94.67 316.00 88.80 C316.53 82.93 317.08 63.53 317.50 62.00 C317.92 60.47 318.07 83.83 318.50 79.60 C318.93 75.37 319.65 41.58 320.10 36.60 C320.55 31.62 320.72 41.23 321.20 49.70 C321.68 58.17 322.37 88.75 323.00 87.40 C323.63 86.05 324.42 41.13 325.00 41.60 C325.58 42.07 325.90 91.62 326.50 90.20 C327.10 88.78 327.98 31.70 328.60 33.10 C329.22 34.50 329.60 92.95 330.20 98.60 C330.80 104.25 331.57 66.42 332.20 67.00 C332.83 67.58 333.45 98.23 334.00 102.10 C334.55 105.97 335.00 89.50 335.50 90.20 C336.00 90.90 336.65 103.00 337.00 106.30 C337.35 109.60 337.27 109.32 337.60 110.00 C337.93 110.68 338.47 110.02 339.00 110.40 C339.53 110.78 340.27 112.12 340.80 112.30 C341.33 112.48 341.77 111.75 342.20 111.50 C342.63 111.25 342.97 110.67 343.40 110.80 C343.83 110.93 344.03 112.03 344.80 112.30 C345.57 112.57 346.80 112.40 348.00 112.40 C349.20 112.40 351.00 112.47 352.00 112.30 C353.00 112.13 353.33 111.38 354.00 111.40 C354.67 111.42 355.33 112.07 356.00 112.40 L368.50 112.60"/>
<rect class="f" x="377.3" y="14.5" width="66.9" height="100.7"/>
<path class="f" d="M410.5 112.6V115.2"/>
<path class="c" d="M378.50 111.90 C378.92 111.85 380.08 111.72 381.00 111.60 C381.92 111.48 383.17 111.38 384.00 111.20 C384.83 111.02 385.33 110.85 386.00 110.50 C386.67 110.15 387.42 109.68 388.00 109.10 C388.58 108.52 389.08 107.70 389.50 107.00 C389.92 106.30 390.17 105.60 390.50 104.90 C390.83 104.20 391.17 103.38 391.50 102.80 C391.83 102.22 392.08 101.75 392.50 101.40 C392.92 101.05 393.67 101.28 394.00 100.70 C394.33 100.12 394.25 100.00 394.50 97.90 C394.75 95.80 395.25 90.78 395.50 88.10 C395.75 85.42 395.75 83.45 396.00 81.80 C396.25 80.15 396.70 78.33 397.00 78.20 C397.30 78.07 397.55 81.23 397.80 81.00 C398.05 80.77 398.22 79.83 398.50 76.80 C398.78 73.77 399.15 68.90 399.50 62.80 C399.85 56.70 400.13 36.33 400.60 40.20 C401.07 44.07 401.68 83.37 402.30 86.00 C402.92 88.63 403.68 55.42 404.30 56.00 C404.92 56.58 405.33 88.12 406.00 89.50 C406.67 90.88 407.67 62.65 408.30 64.30 C408.93 65.95 409.30 94.30 409.80 99.40 C410.30 104.50 410.72 93.63 411.30 94.90 C411.88 96.17 412.62 105.65 413.30 107.00 C413.98 108.35 414.85 102.75 415.40 103.00 C415.95 103.25 416.20 107.20 416.60 108.50 C417.00 109.80 417.32 110.28 417.80 110.80 C418.28 111.32 418.63 111.40 419.50 111.60 C420.37 111.80 422.00 111.93 423.00 112.00 C424.00 112.07 424.83 112.18 425.50 112.00 C426.17 111.82 426.50 110.90 427.00 110.90 C427.50 110.90 427.33 111.83 428.50 112.00 C429.67 112.17 432.82 112.08 434.00 111.90 C435.18 111.72 435.05 110.90 435.60 110.90 C436.15 110.90 436.73 111.90 437.30 111.90 C437.87 111.90 438.43 110.88 439.00 110.90 C439.57 110.92 439.90 111.85 440.70 112.00 C441.50 112.15 443.28 111.83 443.80 111.80"/>
<rect class="f" x="452.9" y="14.5" width="66.4" height="100.7"/>
<path class="f" d="M486.5 112.6V115.2"/>
<path class="c" d="M453.50 112.20 C453.75 112.03 454.42 111.53 455.00 111.20 C455.58 110.87 456.42 110.67 457.00 110.20 C457.58 109.73 458.00 108.47 458.50 108.40 C459.00 108.33 459.50 109.68 460.00 109.80 C460.50 109.92 461.00 109.45 461.50 109.10 C462.00 108.75 462.50 108.28 463.00 107.70 C463.50 107.12 464.08 106.65 464.50 105.60 C464.92 104.55 465.17 102.57 465.50 101.40 C465.83 100.23 466.17 98.02 466.50 98.60 C466.83 99.18 467.08 104.78 467.50 104.90 C467.92 105.02 468.53 100.47 469.00 99.30 C469.47 98.13 469.98 102.12 470.30 97.90 C470.62 93.68 470.67 81.48 470.90 74.00 C471.13 66.52 471.45 58.67 471.70 53.00 C471.95 47.33 472.18 43.77 472.40 40.00 C472.62 36.23 472.83 31.23 473.00 30.40 C473.17 29.57 473.28 30.07 473.40 35.00 C473.52 39.93 473.58 49.05 473.70 60.00 C473.82 70.95 473.97 93.57 474.10 100.70 C474.23 107.83 474.27 102.80 474.50 102.80 C474.73 102.80 475.08 100.70 475.50 100.70 C475.92 100.70 476.50 103.38 477.00 102.80 C477.50 102.22 478.00 98.37 478.50 97.20 C479.00 96.03 479.50 95.33 480.00 95.80 C480.50 96.27 480.95 101.17 481.50 100.00 C482.05 98.83 482.70 88.68 483.30 88.80 C483.90 88.92 484.52 100.63 485.10 100.70 C485.68 100.77 486.20 88.32 486.80 89.20 C487.40 90.08 488.12 104.00 488.70 106.00 C489.28 108.00 489.83 101.30 490.30 101.20 C490.77 101.10 491.17 104.18 491.50 105.40 C491.83 106.62 491.97 107.97 492.30 108.50 C492.63 109.03 492.97 108.22 493.50 108.60 C494.03 108.98 494.83 110.57 495.50 110.80 C496.17 111.03 496.83 109.75 497.50 110.00 C498.17 110.25 498.83 111.53 499.50 112.30 L519.00 112.30"/>
<rect class="f" x="0.6" y="149.6" width="66.9" height="100.3"/>
<path class="f" d="M33.8 247.3V249.9"/>
<path class="c" d="M1.00 243.10 C1.25 242.95 2.00 242.20 2.50 242.20 C3.00 242.20 3.50 243.62 4.00 243.10 C4.50 242.58 5.08 240.15 5.50 239.10 C5.92 238.05 6.13 236.95 6.50 236.80 C6.87 236.65 7.23 238.80 7.70 238.20 C8.17 237.60 8.83 233.58 9.30 233.20 C9.77 232.82 9.98 237.33 10.50 235.90 C11.02 234.47 11.78 225.42 12.40 224.60 C13.02 223.78 13.55 231.52 14.20 231.00 C14.85 230.48 15.75 222.72 16.30 221.50 C16.85 220.28 17.05 223.55 17.50 223.70 C17.95 223.85 18.58 222.92 19.00 222.40 C19.42 221.88 19.72 222.67 20.00 220.60 C20.28 218.53 20.40 214.20 20.70 210.00 C21.00 205.80 21.38 193.23 21.80 195.40 C22.22 197.57 22.67 220.50 23.20 223.00 C23.73 225.50 24.42 210.27 25.00 210.40 C25.58 210.53 26.22 231.90 26.70 223.80 C27.18 215.70 27.37 161.57 27.90 161.80 C28.43 162.03 29.28 217.45 29.90 225.20 C30.52 232.95 31.03 206.43 31.60 208.30 C32.17 210.17 32.72 233.35 33.30 236.40 C33.88 239.45 34.57 225.90 35.10 226.60 C35.63 227.30 36.03 239.08 36.50 240.60 C36.97 242.12 37.43 235.23 37.90 235.70 C38.37 236.17 38.83 241.77 39.30 243.40 C39.77 245.03 40.12 244.92 40.70 245.50 C41.28 246.08 42.10 246.85 42.80 246.90 C43.50 246.95 44.20 245.72 44.90 245.80 C45.60 245.88 46.30 246.87 47.00 247.40 L67.00 247.40"/>
<rect class="f" x="75.8" y="149.6" width="66.9" height="100.3"/>
<path class="f" d="M109.3 247.3V249.9"/>
<path class="c" d="M76.50 246.60 C76.75 246.30 77.42 245.22 78.00 244.80 C78.58 244.38 79.33 244.45 80.00 244.10 C80.67 243.75 81.33 243.05 82.00 242.70 C82.67 242.35 83.50 242.28 84.00 242.00 C84.50 241.72 84.67 240.88 85.00 241.00 C85.33 241.12 85.58 242.88 86.00 242.70 C86.42 242.52 87.00 240.72 87.50 239.90 C88.00 239.08 88.67 238.70 89.00 237.80 C89.33 236.90 89.28 235.63 89.50 234.50 C89.72 233.37 90.02 232.23 90.30 231.00 C90.58 229.77 90.87 226.67 91.20 227.10 C91.53 227.53 91.75 234.47 92.30 233.60 C92.85 232.73 93.85 222.22 94.50 221.90 C95.15 221.58 95.67 231.05 96.20 231.70 C96.73 232.35 97.23 227.22 97.70 225.80 C98.17 224.38 98.58 223.48 99.00 223.20 C99.42 222.92 99.80 226.60 100.20 224.10 C100.60 221.60 101.05 213.53 101.40 208.20 C101.75 202.87 102.03 199.27 102.30 192.10 C102.57 184.93 102.72 162.27 103.00 165.20 C103.28 168.13 103.67 199.82 104.00 209.70 C104.33 219.58 104.52 226.40 105.00 224.50 C105.48 222.60 106.40 199.72 106.90 198.30 C107.40 196.88 107.72 209.30 108.00 216.00 C108.28 222.70 108.33 235.27 108.60 238.50 C108.87 241.73 109.27 235.57 109.60 235.40 C109.93 235.23 110.08 236.10 110.60 237.50 C111.12 238.90 111.97 243.25 112.70 243.80 C113.43 244.35 114.37 240.80 115.00 240.80 C115.63 240.80 115.88 244.25 116.50 243.80 C117.12 243.35 117.98 237.83 118.70 238.10 C119.42 238.37 120.13 244.38 120.80 245.40 C121.47 246.42 122.07 243.88 122.70 244.20 C123.33 244.52 123.97 246.27 124.60 247.30 L142.20 247.30"/>
<rect class="f" x="151.6" y="149.6" width="66.8" height="100.3"/>
<path class="f" d="M185.0 247.3V249.9"/>
<path class="c" d="M152.00 243.50 C152.20 243.42 152.82 243.20 153.20 243.00 C153.58 242.80 153.83 242.92 154.30 242.30 C154.77 241.68 155.53 240.43 156.00 239.30 C156.47 238.17 156.68 236.88 157.10 235.50 C157.52 234.12 158.10 232.28 158.50 231.00 C158.90 229.72 159.18 228.88 159.50 227.80 C159.82 226.72 160.17 225.47 160.40 224.50 C160.63 223.53 160.72 224.32 160.90 222.00 C161.08 219.68 161.28 215.88 161.50 210.60 C161.72 205.32 161.97 195.73 162.20 190.30 C162.43 184.87 162.70 179.05 162.90 178.00 C163.10 176.95 163.27 182.00 163.40 184.00 C163.53 186.00 163.57 189.58 163.70 190.00 C163.83 190.42 164.02 185.83 164.20 186.50 C164.38 187.17 164.62 193.25 164.80 194.00 C164.98 194.75 165.12 189.50 165.30 191.00 C165.48 192.50 165.68 203.00 165.90 203.00 C166.12 203.00 166.37 192.00 166.60 191.00 C166.83 190.00 167.07 196.83 167.30 197.00 C167.53 197.17 167.75 191.42 168.00 192.00 C168.25 192.58 168.55 200.33 168.80 200.50 C169.05 200.67 169.25 193.33 169.50 193.00 C169.75 192.67 170.05 198.08 170.30 198.50 C170.55 198.92 170.77 195.58 171.00 195.50 C171.23 195.42 171.47 196.58 171.70 198.00 C171.93 199.42 172.18 204.50 172.40 204.00 C172.62 203.50 172.77 197.75 173.00 195.00 C173.23 192.25 173.52 185.83 173.80 187.50 C174.08 189.17 174.42 200.48 174.70 205.00 C174.98 209.52 175.28 212.52 175.50 214.60 C175.72 216.68 175.83 216.10 176.00 217.50 C176.17 218.90 176.25 220.67 176.50 223.00 C176.75 225.33 177.17 229.38 177.50 231.50 C177.83 233.62 178.08 234.65 178.50 235.70 C178.92 236.75 179.50 237.22 180.00 237.80 C180.50 238.38 181.00 238.62 181.50 239.20 C182.00 239.78 182.50 240.60 183.00 241.30 C183.50 242.00 184.00 243.63 184.50 243.40 C185.00 243.17 185.50 239.67 186.00 239.90 C186.50 240.13 186.92 244.10 187.50 244.80 C188.08 245.50 189.00 243.87 189.50 244.10 C190.00 244.33 190.00 246.20 190.50 246.20 C191.00 246.20 191.92 243.93 192.50 244.10 C193.08 244.27 193.33 247.08 194.00 247.20 C194.67 247.32 195.83 244.73 196.50 244.80 C197.17 244.87 197.25 247.13 198.00 247.60 C198.75 248.07 199.75 248.07 201.00 247.60 C202.25 247.13 204.33 244.87 205.50 244.80 C206.67 244.73 207.17 246.40 208.00 247.20 L218.00 247.50"/>
<rect class="f" x="226.4" y="149.6" width="67.0" height="100.3"/>
<path class="f" d="M260.4 247.3V249.9"/>
<path class="c" d="M227.50 244.80 C227.83 244.45 228.83 243.52 229.50 242.70 C230.17 241.88 230.92 240.48 231.50 239.90 C232.08 239.32 232.42 239.78 233.00 239.20 C233.58 238.62 234.33 237.33 235.00 236.40 C235.67 235.47 236.58 234.30 237.00 233.60 C237.42 232.90 237.25 233.48 237.50 232.20 C237.75 230.92 238.17 228.60 238.50 225.90 C238.83 223.20 239.17 219.28 239.50 216.00 C239.83 212.72 240.28 208.42 240.50 206.20 C240.72 203.98 240.50 200.23 240.80 202.70 C241.10 205.17 241.88 219.02 242.30 221.00 C242.72 222.98 242.93 215.90 243.30 214.60 C243.67 213.30 244.13 213.20 244.50 213.20 C244.87 213.20 245.17 215.30 245.50 214.60 C245.83 213.90 246.20 211.80 246.50 209.00 C246.80 206.20 247.02 204.22 247.30 197.80 C247.58 191.38 247.75 172.13 248.20 170.50 C248.65 168.87 249.43 190.50 250.00 188.00 C250.57 185.50 251.03 152.00 251.60 155.50 C252.17 159.00 252.70 203.25 253.40 209.00 C254.10 214.75 255.10 188.93 255.80 190.00 C256.50 191.07 256.95 214.60 257.60 215.40 C258.25 216.20 259.12 194.70 259.70 194.80 C260.28 194.90 260.68 210.35 261.10 216.00 C261.52 221.65 261.85 227.40 262.20 228.70 C262.55 230.00 262.77 221.37 263.20 223.80 C263.63 226.23 264.33 240.17 264.80 243.30 C265.27 246.43 265.60 243.02 266.00 242.60 C266.40 242.18 266.73 240.33 267.20 240.80 C267.67 241.27 268.25 244.83 268.80 245.40 C269.35 245.97 269.97 243.95 270.50 244.20 C271.03 244.45 271.50 246.38 272.00 246.90 C272.50 247.42 272.33 247.23 273.50 247.30 C274.67 247.37 277.30 247.30 279.00 247.30 C280.70 247.30 282.62 247.62 283.70 247.30 C284.78 246.98 284.95 245.40 285.50 245.40 C286.05 245.40 286.58 246.98 287.00 247.30 C287.42 247.62 287.58 247.58 288.00 247.30 C288.42 247.02 289.00 245.60 289.50 245.60 C290.00 245.60 290.42 247.02 291.00 247.30 C291.58 247.58 292.67 247.30 293.00 247.30"/>
<rect class="f" x="301.9" y="149.6" width="67.0" height="100.3"/>
<path class="f" d="M335.5 247.3V249.9"/>
<path class="c" d="M302.50 245.20 C302.92 245.02 304.08 244.47 305.00 244.10 C305.92 243.73 307.00 243.35 308.00 243.00 C309.00 242.65 310.17 242.40 311.00 242.00 C311.83 241.60 312.33 241.18 313.00 240.60 C313.67 240.02 314.33 239.02 315.00 238.50 C315.67 237.98 316.33 238.08 317.00 237.50 C317.67 236.92 318.33 236.00 319.00 235.00 C319.67 234.00 320.33 232.90 321.00 231.50 C321.67 230.10 322.42 227.77 323.00 226.60 C323.58 225.43 324.08 224.62 324.50 224.50 C324.92 224.38 325.17 226.37 325.50 225.90 C325.83 225.43 326.17 223.10 326.50 221.70 C326.83 220.30 327.17 219.15 327.50 217.50 C327.83 215.85 328.08 211.57 328.50 211.80 C328.92 212.03 329.58 219.60 330.00 218.90 C330.42 218.20 330.67 211.62 331.00 207.60 C331.33 203.58 331.58 193.40 332.00 194.80 C332.42 196.20 332.78 221.28 333.50 216.00 C334.22 210.72 335.55 162.97 336.30 163.10 C337.05 163.23 337.38 214.93 338.00 216.80 C338.62 218.67 339.37 172.78 340.00 174.30 C340.63 175.82 341.22 220.00 341.80 225.90 C342.38 231.80 342.88 208.30 343.50 209.70 C344.12 211.10 344.87 230.95 345.50 234.30 C346.13 237.65 346.68 228.60 347.30 229.80 C347.92 231.00 348.55 239.93 349.20 241.50 C349.85 243.07 350.55 238.68 351.20 239.20 C351.85 239.72 352.53 243.77 353.10 244.60 C353.67 245.43 354.03 243.98 354.60 244.20 C355.17 244.42 355.85 245.77 356.50 245.90 C357.15 246.03 357.85 244.90 358.50 245.00 C359.15 245.10 359.38 246.15 360.40 246.50 C361.42 246.85 363.25 246.93 364.60 247.10 C365.95 247.27 367.85 247.43 368.50 247.50"/>
<rect class="f" x="377.3" y="149.6" width="66.9" height="100.3"/>
<path class="f" d="M410.5 247.3V249.9"/>
<path class="c" d="M378.30 245.60 C378.45 245.33 378.83 244.18 379.20 244.00 C379.57 243.82 380.03 244.62 380.50 244.50 C380.97 244.38 381.50 243.50 382.00 243.30 C382.50 243.10 383.00 243.52 383.50 243.30 C384.00 243.08 384.50 242.32 385.00 242.00 C385.50 241.68 386.00 241.70 386.50 241.40 C387.00 241.10 387.58 240.62 388.00 240.20 C388.42 239.78 388.67 239.02 389.00 238.90 C389.33 238.78 389.67 239.18 390.00 239.50 C390.33 239.82 390.67 241.12 391.00 240.80 C391.33 240.48 391.67 238.55 392.00 237.60 C392.33 236.65 392.73 236.20 393.00 235.10 C393.27 234.00 393.40 232.88 393.60 231.00 C393.80 229.12 393.87 223.30 394.20 223.80 C394.53 224.30 395.00 234.27 395.60 234.00 C396.20 233.73 397.20 222.95 397.80 222.20 C398.40 221.45 398.65 231.93 399.20 229.50 C399.75 227.07 400.52 208.43 401.10 207.60 C401.68 206.77 402.10 229.10 402.70 224.50 C403.30 219.90 404.02 181.88 404.70 180.00 C405.38 178.12 406.17 216.83 406.80 213.20 C407.43 209.57 407.90 155.50 408.50 158.20 C409.10 160.90 409.92 218.47 410.40 229.40 C410.88 240.33 410.93 222.98 411.40 223.80 C411.87 224.62 412.62 231.73 413.20 234.30 C413.78 236.87 414.38 237.80 414.90 239.20 C415.42 240.60 415.83 242.07 416.30 242.70 C416.77 243.33 417.23 242.77 417.70 243.00 C418.17 243.23 418.40 243.80 419.10 244.10 C419.80 244.40 420.97 244.57 421.90 244.80 L443.50 245.20"/>
<rect class="f" x="452.9" y="149.6" width="66.4" height="100.3"/>
<path class="f" d="M486.5 247.3V249.9"/>
<path class="c" d="M453.50 244.10 C453.75 244.33 454.42 245.38 455.00 245.50 C455.58 245.62 456.33 245.15 457.00 244.80 C457.67 244.45 458.33 243.75 459.00 243.40 C459.67 243.05 460.42 243.05 461.00 242.70 C461.58 242.35 462.08 241.88 462.50 241.30 C462.92 240.72 463.08 239.90 463.50 239.20 C463.92 238.50 464.58 237.57 465.00 237.10 C465.42 236.63 465.67 236.75 466.00 236.40 C466.33 236.05 466.67 235.58 467.00 235.00 C467.33 234.42 467.67 233.48 468.00 232.90 C468.33 232.32 468.75 231.97 469.00 231.50 C469.25 231.03 469.25 231.15 469.50 230.10 C469.75 229.05 470.25 227.55 470.50 225.20 C470.75 222.85 470.88 218.23 471.00 216.00 C471.12 213.77 471.07 215.68 471.20 211.80 C471.33 207.92 471.63 194.83 471.80 192.70 C471.97 190.57 472.02 205.05 472.20 199.00 C472.38 192.95 472.57 160.80 472.90 156.40 C473.23 152.00 473.92 163.13 474.20 172.60 C474.48 182.07 474.18 210.40 474.60 213.20 C475.02 216.00 476.08 189.10 476.70 189.40 C477.32 189.70 477.72 212.23 478.30 215.00 C478.88 217.77 479.70 205.23 480.20 206.00 C480.70 206.77 481.00 217.72 481.30 219.60 C481.60 221.48 481.70 216.80 482.00 217.30 C482.30 217.80 482.72 221.35 483.10 222.60 C483.48 223.85 483.98 224.93 484.30 224.80 C484.62 224.67 484.63 223.17 485.00 221.80 C485.37 220.43 486.05 216.22 486.50 216.60 C486.95 216.98 487.37 221.10 487.70 224.10 C488.03 227.10 488.15 233.22 488.50 234.60 C488.85 235.98 489.38 233.15 489.80 232.40 C490.22 231.65 490.53 229.48 491.00 230.10 C491.47 230.72 492.10 234.35 492.60 236.10 C493.10 237.85 493.50 239.37 494.00 240.60 C494.50 241.83 494.98 242.68 495.60 243.50 C496.22 244.32 496.88 244.88 497.70 245.50 C498.52 246.12 499.57 246.63 500.50 247.20 L518.50 247.40"/>
<rect class="f" x="0.6" y="284.4" width="66.9" height="100.2"/>
<path class="f" d="M33.8 382.0V384.6"/>
<path class="c" d="M1.00 380.20 C1.33 380.02 2.33 379.40 3.00 379.10 C3.67 378.80 4.33 378.63 5.00 378.40 C5.67 378.17 6.42 378.05 7.00 377.70 C7.58 377.35 8.00 376.77 8.50 376.30 C9.00 375.83 9.50 375.25 10.00 374.90 C10.50 374.55 11.08 374.55 11.50 374.20 C11.92 373.85 12.17 373.62 12.50 372.80 C12.83 371.98 13.17 370.82 13.50 369.30 C13.83 367.78 14.08 363.70 14.50 363.70 C14.92 363.70 15.58 369.42 16.00 369.30 C16.42 369.18 16.58 366.15 17.00 363.00 C17.42 359.85 18.00 350.28 18.50 350.40 C19.00 350.52 19.50 364.53 20.00 363.70 C20.50 362.87 21.08 350.20 21.50 345.40 C21.92 340.60 22.07 333.97 22.50 334.90 C22.93 335.83 23.63 350.65 24.10 351.00 C24.57 351.35 24.92 336.87 25.30 337.00 C25.68 337.13 26.05 350.75 26.40 351.80 C26.75 352.85 27.12 342.60 27.40 343.30 C27.68 344.00 27.78 363.82 28.10 356.00 C28.42 348.18 29.02 300.98 29.30 296.40 C29.58 291.82 29.63 322.73 29.80 328.50 C29.97 334.27 30.07 326.67 30.30 331.00 C30.53 335.33 30.85 348.13 31.20 354.50 C31.55 360.87 32.07 365.73 32.40 369.20 C32.73 372.67 32.80 374.73 33.20 375.30 C33.60 375.87 34.17 372.08 34.80 372.60 C35.43 373.12 36.33 377.95 37.00 378.40 C37.67 378.85 38.05 375.07 38.80 375.30 C39.55 375.53 40.60 379.58 41.50 379.80 C42.40 380.02 43.58 376.82 44.20 376.60 C44.82 376.38 44.85 377.60 45.20 378.50 C45.55 379.40 45.93 380.83 46.30 382.00 L67.00 382.00"/>
<rect class="f" x="75.8" y="284.4" width="66.9" height="100.2"/>
<path class="f" d="M109.3 382.0V384.6"/>
<path class="c" d="M76.50 380.50 C76.83 380.15 77.83 378.98 78.50 378.40 C79.17 377.82 79.92 377.47 80.50 377.00 C81.08 376.53 81.50 375.72 82.00 375.60 C82.50 375.48 83.00 376.47 83.50 376.30 C84.00 376.13 84.42 375.12 85.00 374.60 C85.58 374.08 86.42 373.38 87.00 373.20 C87.58 373.02 88.00 373.68 88.50 373.50 C89.00 373.32 89.58 372.80 90.00 372.10 C90.42 371.40 90.67 370.47 91.00 369.30 C91.33 368.13 91.67 366.08 92.00 365.10 C92.33 364.12 92.67 363.52 93.00 363.40 C93.33 363.28 93.75 363.77 94.00 364.40 C94.25 365.03 94.25 368.25 94.50 367.20 C94.75 366.15 95.17 361.73 95.50 358.10 C95.83 354.47 96.20 348.22 96.50 345.40 C96.80 342.58 97.00 340.97 97.30 341.20 C97.60 341.43 98.07 343.98 98.30 346.80 C98.53 349.62 98.37 363.75 98.70 358.10 C99.03 352.45 99.68 313.28 100.30 312.90 C100.92 312.52 101.73 354.90 102.40 355.80 C103.07 356.70 103.63 318.22 104.30 318.30 C104.97 318.38 105.72 358.65 106.40 356.30 C107.08 353.95 107.80 304.33 108.40 304.20 C109.00 304.07 109.47 353.30 110.00 355.50 C110.53 357.70 111.02 314.32 111.60 317.40 C112.18 320.48 112.85 366.98 113.50 374.00 C114.15 381.02 115.03 361.17 115.50 359.50 C115.97 357.83 115.92 361.08 116.30 364.00 C116.68 366.92 117.35 374.90 117.80 377.00 C118.25 379.10 118.55 376.00 119.00 376.60 C119.45 377.20 119.92 380.10 120.50 380.60 C121.08 381.10 121.75 379.35 122.50 379.60 C123.25 379.85 123.75 381.65 125.00 382.10 C126.25 382.55 128.50 382.43 130.00 382.30 C131.50 382.17 133.00 381.30 134.00 381.30 C135.00 381.30 135.17 382.20 136.00 382.30 C136.83 382.40 137.97 381.90 139.00 381.90 C140.03 381.90 141.67 382.23 142.20 382.30"/>
<rect class="f" x="151.6" y="284.4" width="66.8" height="100.2"/>
<path class="f" d="M185.0 382.0V384.6"/>
<path class="c" d="M152.00 378.60 C152.33 378.43 153.33 377.93 154.00 377.60 C154.67 377.27 155.33 377.18 156.00 376.60 C156.67 376.02 157.42 374.93 158.00 374.10 C158.58 373.27 159.00 372.52 159.50 371.60 C160.00 370.68 160.50 369.02 161.00 368.60 C161.50 368.18 162.08 369.52 162.50 369.10 C162.92 368.68 163.08 367.27 163.50 366.10 C163.92 364.93 164.58 362.35 165.00 362.10 C165.42 361.85 165.67 364.35 166.00 364.60 C166.33 364.85 166.73 365.20 167.00 363.60 C167.27 362.00 167.37 358.93 167.60 355.00 C167.83 351.07 168.07 348.47 168.40 340.00 C168.73 331.53 169.28 304.00 169.60 304.20 C169.92 304.40 170.07 331.52 170.30 341.20 C170.53 350.88 170.63 361.00 171.00 362.30 C171.37 363.60 172.17 350.88 172.50 349.00 C172.83 347.12 172.67 347.97 173.00 351.00 C173.33 354.03 173.97 365.87 174.50 367.20 C175.03 368.53 175.73 359.70 176.20 359.00 C176.67 358.30 176.87 360.63 177.30 363.00 C177.73 365.37 178.20 372.28 178.80 373.20 C179.40 374.12 180.27 368.15 180.90 368.50 C181.53 368.85 181.98 375.78 182.60 375.30 C183.22 374.82 184.10 366.32 184.60 365.60 C185.10 364.88 185.30 368.97 185.60 371.00 C185.90 373.03 186.05 376.58 186.40 377.80 C186.75 379.02 187.27 377.87 187.70 378.30 C188.13 378.73 188.50 379.77 189.00 380.40 C189.50 381.03 190.13 381.53 190.70 382.10 L198.00 382.10 C198.67 381.93 199.33 381.60 200.00 381.60 C200.67 381.60 201.33 381.93 202.00 382.10 L218.00 382.10"/>
<rect class="f" x="226.4" y="284.4" width="67.0" height="100.2"/>
<path class="f" d="M260.4 382.0V384.6"/>
<path class="c" d="M227.00 378.00 C227.25 377.58 227.90 376.47 228.50 375.50 C229.10 374.53 229.98 372.33 230.60 372.20 C231.22 372.07 231.48 375.43 232.20 374.70 C232.92 373.97 234.22 368.78 234.90 367.80 C235.58 366.82 235.83 369.93 236.30 368.80 C236.77 367.67 237.23 361.97 237.70 361.00 C238.17 360.03 238.65 364.42 239.10 363.00 C239.55 361.58 239.95 354.57 240.40 352.50 C240.85 350.43 241.43 351.27 241.80 350.60 C242.17 349.93 242.35 349.43 242.60 348.50 C242.85 347.57 243.07 346.75 243.30 345.00 C243.53 343.25 243.78 340.50 244.00 338.00 C244.22 335.50 244.30 334.97 244.60 330.00 C244.90 325.03 245.32 307.03 245.80 308.20 C246.28 309.37 246.87 334.08 247.50 337.00 C248.13 339.92 249.02 325.12 249.60 325.70 C250.18 326.28 250.33 344.65 251.00 340.50 C251.67 336.35 252.90 298.92 253.60 300.80 C254.30 302.68 254.72 344.72 255.20 351.80 C255.68 358.88 256.12 344.13 256.50 343.30 C256.88 342.47 257.13 343.87 257.50 346.80 C257.87 349.73 258.18 360.30 258.70 360.90 C259.22 361.50 260.00 350.17 260.60 350.40 C261.20 350.63 261.82 359.38 262.30 362.30 C262.78 365.22 263.05 366.27 263.50 367.90 C263.95 369.53 264.50 371.05 265.00 372.10 C265.50 373.15 265.87 375.72 266.50 374.20 C267.13 372.68 268.22 362.88 268.80 363.00 C269.38 363.12 269.55 372.68 270.00 374.90 C270.45 377.12 271.05 375.88 271.50 376.30 C271.95 376.72 272.28 376.93 272.70 377.40 C273.12 377.87 273.53 378.58 274.00 379.10 C274.47 379.62 274.92 379.92 275.50 380.50 C276.08 381.08 276.83 381.90 277.50 382.60 L293.00 382.60"/>
<rect class="f" x="301.9" y="284.4" width="67.0" height="100.2"/>
<path class="f" d="M335.5 382.0V384.6"/>
<path class="c" d="M302.50 379.10 C302.83 379.05 303.83 378.92 304.50 378.80 C305.17 378.68 305.92 378.70 306.50 378.40 C307.08 378.10 307.62 377.58 308.00 377.00 C308.38 376.42 308.50 375.37 308.80 374.90 C309.10 374.43 309.43 374.20 309.80 374.20 C310.17 374.20 310.63 375.13 311.00 374.90 C311.37 374.67 311.67 373.38 312.00 372.80 C312.33 372.22 312.67 371.52 313.00 371.40 C313.33 371.28 313.67 372.33 314.00 372.10 C314.33 371.87 314.67 371.17 315.00 370.00 C315.33 368.83 315.67 366.15 316.00 365.10 C316.33 364.05 316.70 363.12 317.00 363.70 C317.30 364.28 317.50 368.83 317.80 368.60 C318.10 368.37 318.52 364.05 318.80 362.30 C319.08 360.55 319.22 359.27 319.50 358.10 C319.78 356.93 320.20 355.18 320.50 355.30 C320.80 355.42 321.05 359.03 321.30 358.80 C321.55 358.57 321.80 356.60 322.00 353.90 C322.20 351.20 322.25 346.12 322.50 342.60 C322.75 339.08 323.15 339.87 323.50 332.80 C323.85 325.73 324.10 295.40 324.60 300.20 C325.10 305.00 325.83 357.17 326.50 361.60 C327.17 366.03 328.02 325.98 328.60 326.80 C329.18 327.62 329.40 365.97 330.00 366.50 C330.60 367.03 331.57 329.53 332.20 330.00 C332.83 330.47 333.25 364.62 333.80 369.30 C334.35 373.98 334.92 357.17 335.50 358.10 C336.08 359.03 336.63 375.13 337.30 374.90 C337.97 374.67 338.88 357.63 339.50 356.70 C340.12 355.77 340.67 365.68 341.00 369.30 C341.33 372.92 341.17 376.65 341.50 378.40 C341.83 380.15 342.50 379.33 343.00 379.80 C343.50 380.27 344.00 380.80 344.50 381.20 C345.00 381.60 345.25 381.97 346.00 382.20 C346.75 382.43 348.00 382.65 349.00 382.60 C350.00 382.55 351.00 382.13 352.00 381.90 C353.00 381.67 354.17 381.38 355.00 381.20 C355.83 381.02 356.33 381.10 357.00 380.80 C357.67 380.50 358.33 379.50 359.00 379.40 C359.67 379.30 360.33 380.02 361.00 380.20 C361.67 380.38 362.33 380.57 363.00 380.50 C363.67 380.43 364.08 379.80 365.00 379.80 C365.92 379.80 367.92 380.38 368.50 380.50"/>
<rect class="f" x="377.3" y="284.4" width="66.9" height="100.2"/>
<path class="f" d="M410.5 382.0V384.6"/>
<path class="c" d="M378.50 379.10 C378.75 378.87 379.42 378.05 380.00 377.70 C380.58 377.35 381.50 377.35 382.00 377.00 C382.50 376.65 382.67 376.07 383.00 375.60 C383.33 375.13 383.58 374.55 384.00 374.20 C384.42 373.85 385.08 373.85 385.50 373.50 C385.92 373.15 386.17 372.80 386.50 372.10 C386.83 371.40 387.25 370.12 387.50 369.30 C387.75 368.48 387.75 367.20 388.00 367.20 C388.25 367.20 388.67 369.65 389.00 369.30 C389.33 368.95 389.75 366.27 390.00 365.10 C390.25 363.93 390.25 362.95 390.50 362.30 C390.75 361.65 391.17 361.67 391.50 361.20 C391.83 360.73 392.17 361.20 392.50 359.50 C392.83 357.80 393.17 353.47 393.50 351.00 C393.83 348.53 394.25 346.22 394.50 344.70 C394.75 343.18 394.78 341.78 395.00 341.90 C395.22 342.02 395.55 345.75 395.80 345.40 C396.05 345.05 396.15 345.05 396.50 339.80 C396.85 334.55 397.45 315.03 397.90 313.90 C398.35 312.77 398.60 335.92 399.20 333.00 C399.80 330.08 400.97 296.82 401.50 296.40 C402.03 295.98 402.12 325.40 402.40 330.50 C402.68 335.60 402.77 333.97 403.20 327.00 C403.63 320.03 404.53 287.73 405.00 288.70 C405.47 289.67 405.75 324.52 406.00 332.80 C406.25 341.08 406.28 335.37 406.50 338.40 C406.72 341.43 407.05 348.18 407.30 351.00 C407.55 353.82 407.75 353.88 408.00 355.30 C408.25 356.72 408.55 357.87 408.80 359.50 C409.05 361.13 409.25 363.00 409.50 365.10 C409.75 367.20 409.92 371.75 410.30 372.10 C410.68 372.45 411.35 366.85 411.80 367.20 C412.25 367.55 412.55 372.45 413.00 374.20 C413.45 375.95 413.92 376.60 414.50 377.70 C415.08 378.80 415.75 380.10 416.50 380.80 C417.25 381.50 418.08 381.60 419.00 381.90 C419.92 382.20 421.00 382.37 422.00 382.60 L436.00 382.60 C436.50 382.40 437.00 382.00 437.50 382.00 C438.00 382.00 438.00 382.50 439.00 382.60 C440.00 382.70 442.75 382.60 443.50 382.60"/>
<rect class="f" x="452.9" y="284.4" width="66.4" height="100.2"/>
<path class="f" d="M486.5 382.0V384.6"/>
<path class="c" d="M453.50 379.10 C453.75 378.98 454.42 378.58 455.00 378.40 C455.58 378.22 456.33 378.17 457.00 378.00 C457.67 377.83 458.42 377.68 459.00 377.40 C459.58 377.12 460.08 376.72 460.50 376.30 C460.92 375.88 461.17 375.60 461.50 374.90 C461.83 374.20 462.17 372.80 462.50 372.10 C462.83 371.40 463.17 371.05 463.50 370.70 C463.83 370.35 464.17 370.47 464.50 370.00 C464.83 369.53 465.17 368.02 465.50 367.90 C465.83 367.78 466.17 369.42 466.50 369.30 C466.83 369.18 467.17 367.90 467.50 367.20 C467.83 366.50 468.17 365.22 468.50 365.10 C468.83 364.98 469.17 366.73 469.50 366.50 C469.83 366.27 470.17 364.52 470.50 363.70 C470.83 362.88 471.08 362.18 471.50 361.60 C471.92 361.02 472.53 359.20 473.00 360.20 C473.47 361.20 473.88 367.37 474.30 367.60 C474.72 367.83 475.13 362.83 475.50 361.60 C475.87 360.37 476.20 360.55 476.50 360.20 C476.80 359.85 477.08 359.95 477.30 359.50 C477.52 359.05 477.62 360.08 477.80 357.50 C477.98 354.92 478.15 350.58 478.40 344.00 C478.65 337.42 479.05 326.10 479.30 318.00 C479.55 309.90 479.70 295.40 479.90 295.40 C480.10 295.40 480.28 309.90 480.50 318.00 C480.72 326.10 481.02 337.42 481.20 344.00 C481.38 350.58 481.40 355.03 481.60 357.50 C481.80 359.97 482.08 358.12 482.40 358.80 C482.72 359.48 483.15 359.73 483.50 361.60 C483.85 363.47 484.25 367.78 484.50 370.00 C484.75 372.22 484.75 374.32 485.00 374.90 C485.25 375.48 485.67 373.62 486.00 373.50 C486.33 373.38 486.67 373.38 487.00 374.20 C487.33 375.02 487.58 377.53 488.00 378.40 C488.42 379.27 488.92 379.10 489.50 379.40 C490.08 379.70 490.83 379.90 491.50 380.20 C492.17 380.50 492.75 380.87 493.50 381.20 C494.25 381.53 494.92 382.02 496.00 382.20 C497.08 382.38 498.67 382.27 500.00 382.30 L518.50 382.40"/>
<text class="t" x="23.65" y="9.1">V</text><text class="t" x="30.57" y="9.1">&#946;</text><path class="g" d="M39.74 9.10 L40.69 9.10 L40.69 2.07 L39.96 2.07 C39.74 2.85 39.27 3.25 38.16 3.32 L38.16 3.98 L39.74 3.98 Z"/>
<text class="n" x="63.10" y="27.00">5</text>
<text class="l" x="33.8" y="124.9">20</text>
<text class="t" x="101.15" y="9.1">V</text><text class="t" x="108.07" y="9.1">&#946;</text><text class="t" x="114.62" y="9.1">2</text>
<text class="n" x="138.30" y="27.00">2</text>
<text class="l" x="109.3" y="124.9">20</text>
<text class="t" x="176.15" y="9.1">V</text><text class="t" x="183.07" y="9.1">&#946;</text><text class="t" x="189.62" y="9.1">3</text>
<text class="n" x="214.00" y="27.00">5</text>
<text class="l" x="185.0" y="124.9">20</text>
<text class="t" x="251.65" y="9.1">V</text><text class="t" x="258.57" y="9.1">&#946;</text><text class="t" x="265.12" y="9.1">4</text>
<text class="n" x="289.00" y="27.00">5</text>
<text class="l" x="260.4" y="124.9">20</text>
<text class="t" x="326.15" y="9.1">V</text><text class="t" x="333.07" y="9.1">&#946;</text><text class="t" x="339.62" y="9.1">5</text>
<text class="n" x="364.50" y="27.00">5</text>
<text class="l" x="335.5" y="124.9">20</text>
<text class="t" x="401.90" y="9.1">V</text><text class="t" x="408.82" y="9.1">&#946;</text><text class="t" x="415.37" y="9.1">6</text>
<text class="n" x="439.80" y="27.00">3</text>
<text class="l" x="410.5" y="124.9">20</text>
<text class="t" x="476.15" y="9.1">V</text><text class="t" x="483.07" y="9.1">&#946;</text><text class="t" x="489.62" y="9.1">7</text>
<path class="g" d="M512.05 27.00 L512.97 27.00 L512.97 20.18 L512.26 20.18 C512.05 20.94 511.59 21.33 510.52 21.39 L510.52 22.03 L512.05 22.03 Z"/>
<text class="l" x="486.5" y="124.9">20</text>
<text class="t" x="23.65" y="143.3">V</text><text class="t" x="30.57" y="143.3">&#946;</text><text class="t" x="37.12" y="143.3">8</text>
<text class="n" x="63.10" y="160.60">3</text>
<text class="l" x="33.8" y="259.6">20</text>
<text class="t" x="101.15" y="143.3">V</text><text class="t" x="108.07" y="143.3">&#946;</text><text class="t" x="114.62" y="143.3">9</text>
<text class="n" x="138.30" y="160.60">2</text>
<text class="l" x="109.3" y="259.6">20</text>
<text class="t" x="172.90" y="143.3">V</text><text class="t" x="179.82" y="143.3">&#946;</text><path class="g" d="M188.99 143.30 L189.94 143.30 L189.94 136.27 L189.21 136.27 C188.99 137.05 188.52 137.45 187.41 137.52 L187.41 138.18 L188.99 138.18 Z"/><path class="g" d="M195.05 143.30 L196.00 143.30 L196.00 136.27 L195.27 136.27 C195.05 137.05 194.58 137.45 193.47 137.52 L193.47 138.18 L195.05 138.18 Z"/>
<text class="n" x="214.00" y="160.60">2</text>
<text class="l" x="185.0" y="259.6">20</text>
<text class="t" x="248.65" y="143.3">V</text><text class="t" x="255.57" y="143.3">&#946;</text><path class="g" d="M264.74 143.30 L265.69 143.30 L265.69 136.27 L264.96 136.27 C264.74 137.05 264.27 137.45 263.16 137.52 L263.16 138.18 L264.74 138.18 Z"/><text class="t" x="268.18" y="143.3">2</text>
<text class="n" x="289.00" y="160.60">3</text>
<text class="l" x="260.4" y="259.6">20</text>
<text class="t" x="323.15" y="143.3">V</text><text class="t" x="330.07" y="143.3">&#946;</text><path class="g" d="M339.24 143.30 L340.19 143.30 L340.19 136.27 L339.46 136.27 C339.24 137.05 338.77 137.45 337.66 137.52 L337.66 138.18 L339.24 138.18 Z"/><text class="t" x="342.68" y="143.3">3</text>
<text class="n" x="364.50" y="160.60">5</text>
<text class="l" x="335.5" y="259.6">20</text>
<text class="t" x="398.65" y="143.3">V</text><text class="t" x="405.57" y="143.3">&#946;</text><path class="g" d="M414.74 143.30 L415.69 143.30 L415.69 136.27 L414.96 136.27 C414.74 137.05 414.27 137.45 413.16 137.52 L413.16 138.18 L414.74 138.18 Z"/><text class="t" x="418.18" y="143.3">4</text>
<text class="n" x="439.80" y="160.60">5</text>
<text class="l" x="410.5" y="259.6">20</text>
<text class="t" x="473.65" y="143.3">V</text><text class="t" x="480.57" y="143.3">&#946;</text><path class="g" d="M489.74 143.30 L490.69 143.30 L490.69 136.27 L489.96 136.27 C489.74 137.05 489.27 137.45 488.16 137.52 L488.16 138.18 L489.74 138.18 Z"/><text class="t" x="493.18" y="143.3">5</text>
<text class="n" x="514.90" y="160.60">3</text>
<text class="l" x="486.5" y="259.6">20</text>
<text class="t" x="21.15" y="278.3">V</text><text class="t" x="28.07" y="278.3">&#946;</text><path class="g" d="M37.24 278.30 L38.19 278.30 L38.19 271.27 L37.46 271.27 C37.24 272.05 36.77 272.45 35.66 272.52 L35.66 273.18 L37.24 273.18 Z"/><text class="t" x="40.68" y="278.3">6</text>
<text class="n" x="63.10" y="295.00">2</text>
<text class="l" x="33.8" y="394.8">20</text>
<text class="t" x="98.65" y="278.3">V</text><text class="t" x="105.57" y="278.3">&#946;</text><path class="g" d="M114.74 278.30 L115.69 278.30 L115.69 271.27 L114.96 271.27 C114.74 272.05 114.27 272.45 113.16 272.52 L113.16 273.18 L114.74 273.18 Z"/><text class="t" x="118.18" y="278.3">7</text>
<text class="n" x="138.30" y="295.00">5</text>
<text class="l" x="109.3" y="394.8">20</text>
<text class="t" x="172.90" y="278.3">V</text><text class="t" x="179.82" y="278.3">&#946;</text><text class="t" x="186.37" y="278.3">2</text><text class="t" x="192.43" y="278.3">0</text>
<path class="g" d="M211.15 295.00 L212.07 295.00 L212.07 288.18 L211.36 288.18 C211.15 288.94 210.69 289.33 209.62 289.39 L209.62 290.03 L211.15 290.03 Z"/>
<text class="l" x="185.0" y="394.8">20</text>
<text class="t" x="248.65" y="278.3">V</text><text class="t" x="255.57" y="278.3">&#946;</text><text class="t" x="262.12" y="278.3">2</text><path class="g" d="M270.80 278.30 L271.75 278.30 L271.75 271.27 L271.02 271.27 C270.80 272.05 270.33 272.45 269.22 272.52 L269.22 273.18 L270.80 273.18 Z"/>
<text class="n" x="289.00" y="295.00">2</text>
<text class="l" x="260.4" y="394.8">20</text>
<text class="t" x="323.65" y="278.3">V</text><text class="t" x="330.57" y="278.3">&#946;</text><text class="t" x="337.12" y="278.3">2</text><text class="t" x="343.18" y="278.3">2</text>
<text class="n" x="364.50" y="295.00">5</text>
<text class="l" x="335.5" y="394.8">20</text>
<text class="t" x="398.65" y="278.3">V</text><text class="t" x="405.57" y="278.3">&#946;</text><text class="t" x="412.12" y="278.3">2</text><text class="t" x="418.18" y="278.3">3</text>
<text class="n" x="439.80" y="295.00">5</text>
<text class="l" x="410.5" y="394.8">20</text>
<text class="t" x="472.90" y="278.3">V</text><text class="t" x="479.82" y="278.3">&#946;</text><text class="t" x="486.37" y="278.3">2</text><text class="t" x="492.43" y="278.3">4</text>
<path class="g" d="M512.05 295.00 L512.97 295.00 L512.97 288.18 L512.26 288.18 C512.05 288.94 511.59 289.33 510.52 289.39 L510.52 290.03 L512.05 290.03 Z"/>
<text class="l" x="486.5" y="394.8">20</text>
</svg></body></html>
